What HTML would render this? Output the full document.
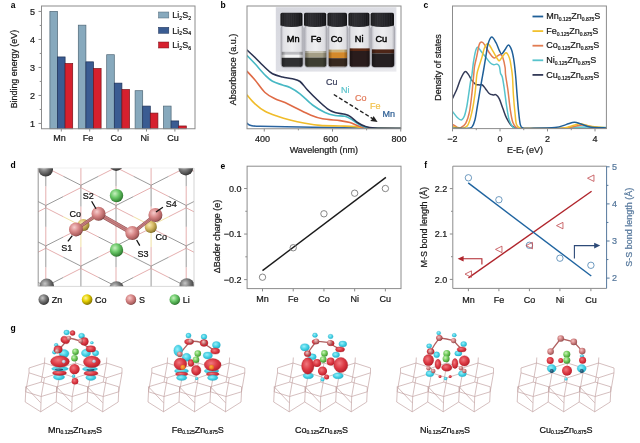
<!DOCTYPE html>
<html><head><meta charset="utf-8"><title>Figure</title>
<style>
html,body{margin:0;padding:0;background:#fff;}
body{width:640px;height:443px;overflow:hidden;}
svg{display:block;}
svg text{font-family:'Liberation Sans',Arial,sans-serif;}
</style></head><body>
<svg width="640" height="443" viewBox="0 0 640 443">
<rect x="0" y="0" width="640" height="443" fill="#ffffff"/>
<defs>
<linearGradient id="phbg" x1="0" y1="0" x2="1" y2="1">
 <stop offset="0" stop-color="#d6d7de"/><stop offset="0.6" stop-color="#dfe0e6"/><stop offset="1" stop-color="#eaeaee"/>
</linearGradient>
<linearGradient id="glass" x1="0" y1="0" x2="1" y2="0">
 <stop offset="0" stop-color="#b4b4bc"/><stop offset="0.12" stop-color="#e2e2e6"/><stop offset="0.5" stop-color="#eeeef0"/><stop offset="0.88" stop-color="#dedee2"/><stop offset="1" stop-color="#a8a8b0"/>
</linearGradient>
<linearGradient id="glassshade" x1="0" y1="0" x2="1" y2="0">
 <stop offset="0" stop-color="#000" stop-opacity="0.35"/><stop offset="0.2" stop-color="#000" stop-opacity="0"/><stop offset="0.8" stop-color="#000" stop-opacity="0"/><stop offset="1" stop-color="#000" stop-opacity="0.35"/>
</linearGradient>
<linearGradient id="cap" x1="0" y1="0" x2="1" y2="0">
 <stop offset="0" stop-color="#1a1a1c"/><stop offset="0.3" stop-color="#2e2e32"/><stop offset="0.7" stop-color="#222226"/><stop offset="1" stop-color="#111113"/>
</linearGradient>
</defs><defs><clipPath id="cvMn"><rect x="281.50" y="25" width="21.30" height="42.20" rx="3.4"/></clipPath></defs><defs><clipPath id="cvFe"><rect x="305.10" y="25" width="21.40" height="42.20" rx="3.4"/></clipPath></defs><defs><clipPath id="cvCo"><rect x="328.50" y="25" width="18.80" height="42.20" rx="3.4"/></clipPath></defs><defs><clipPath id="cvNi"><rect x="349.50" y="25" width="20.30" height="42.20" rx="3.4"/></clipPath></defs><defs><clipPath id="cvCu"><rect x="371.70" y="25" width="22.60" height="42.20" rx="3.4"/></clipPath></defs><defs><clipPath id="clipb"><rect x="247.0" y="6.0" width="154.0" height="122.75"/></clipPath></defs><defs><clipPath id="clipc"><rect x="452.5" y="6.0" width="153.89999999999998" height="122.6"/></clipPath></defs><defs><clipPath id="clipd"><rect x="38.2" y="168.0" width="155.8" height="118.39999999999998"/></clipPath>
<radialGradient id="gZn" cx="0.38" cy="0.35" r="0.7"><stop offset="0" stop-color="#c8c8c8"/><stop offset="0.45" stop-color="#7a7a7a"/><stop offset="1" stop-color="#2e2e2e"/></radialGradient>
<radialGradient id="gS" cx="0.38" cy="0.35" r="0.7"><stop offset="0" stop-color="#f6cccc"/><stop offset="0.45" stop-color="#d88888"/><stop offset="0.85" stop-color="#a85c5c"/><stop offset="1" stop-color="#5a2e2e"/></radialGradient>
<radialGradient id="gLi" cx="0.38" cy="0.35" r="0.7"><stop offset="0" stop-color="#c8f0c0"/><stop offset="0.45" stop-color="#6ac868"/><stop offset="0.85" stop-color="#3a8a3a"/><stop offset="1" stop-color="#1e5a20"/></radialGradient>
<radialGradient id="gCo" cx="0.38" cy="0.35" r="0.7"><stop offset="0" stop-color="#f8eab0"/><stop offset="0.45" stop-color="#d8bc68"/><stop offset="0.85" stop-color="#9c8434"/><stop offset="1" stop-color="#5e4e18"/></radialGradient>
<radialGradient id="gCoL" cx="0.38" cy="0.35" r="0.7"><stop offset="0" stop-color="#fff7a0"/><stop offset="0.45" stop-color="#e6d000"/><stop offset="1" stop-color="#7a6a00"/></radialGradient>
</defs><defs>
<radialGradient id="gR" cx="0.4" cy="0.38" r="0.65"><stop offset="0" stop-color="#f07a80"/><stop offset="0.55" stop-color="#dc3a44"/><stop offset="1" stop-color="#b81e2a"/></radialGradient>
<radialGradient id="gC" cx="0.4" cy="0.38" r="0.65"><stop offset="0" stop-color="#9af0fa"/><stop offset="0.55" stop-color="#46d2e6"/><stop offset="1" stop-color="#22b4cc"/></radialGradient>
<radialGradient id="gSg" cx="0.38" cy="0.35" r="0.7"><stop offset="0" stop-color="#f4c4c4"/><stop offset="0.5" stop-color="#d08080"/><stop offset="1" stop-color="#8e4a4c"/></radialGradient>
<radialGradient id="gLg" cx="0.38" cy="0.35" r="0.7"><stop offset="0" stop-color="#caf2b8"/><stop offset="0.5" stop-color="#72cc5c"/><stop offset="1" stop-color="#3a8a2c"/></radialGradient>
<radialGradient id="gO" cx="0.4" cy="0.4" r="0.6"><stop offset="0" stop-color="#ffb040"/><stop offset="1" stop-color="#e06818"/></radialGradient>
<radialGradient id="gM" cx="0.4" cy="0.4" r="0.6"><stop offset="0" stop-color="#e4e8f0"/><stop offset="1" stop-color="#98a4c0"/></radialGradient>
<radialGradient id="gD" cx="0.4" cy="0.4" r="0.6"><stop offset="0" stop-color="#4a8aa8"/><stop offset="1" stop-color="#163a58"/></radialGradient>
</defs>
<text x="10.80" y="7.60" font-size="8.5" text-anchor="start" fill="#000" font-weight="bold" >a</text>
<rect x="49.90" y="11.45" width="7.60" height="117.30" fill="#87a9bd" stroke="#4e6676" stroke-width="0.7" />
<rect x="57.50" y="56.95" width="7.60" height="71.80" fill="#3a5c92" stroke="#1c3056" stroke-width="0.7" />
<rect x="65.10" y="63.53" width="7.60" height="65.22" fill="#d6202e" stroke="#7a1018" stroke-width="0.7" />
<line x1="61.30" y1="128.75" x2="61.30" y2="131.55" stroke="#8c8c8c" stroke-width="1" />
<text x="59.50" y="141.40" font-size="9" text-anchor="middle" fill="#1a1a1a" stroke="#1a1a1a" stroke-width="0.22" >Mn</text>
<rect x="78.30" y="25.17" width="7.60" height="103.58" fill="#87a9bd" stroke="#4e6676" stroke-width="0.7" />
<rect x="85.90" y="61.85" width="7.60" height="66.90" fill="#3a5c92" stroke="#1c3056" stroke-width="0.7" />
<rect x="93.50" y="68.57" width="7.60" height="60.18" fill="#d6202e" stroke="#7a1018" stroke-width="0.7" />
<line x1="89.70" y1="128.75" x2="89.70" y2="131.55" stroke="#8c8c8c" stroke-width="1" />
<text x="87.90" y="141.40" font-size="9" text-anchor="middle" fill="#1a1a1a" stroke="#1a1a1a" stroke-width="0.22" >Fe</text>
<rect x="106.70" y="54.71" width="7.60" height="74.04" fill="#87a9bd" stroke="#4e6676" stroke-width="0.7" />
<rect x="114.30" y="83.13" width="7.60" height="45.62" fill="#3a5c92" stroke="#1c3056" stroke-width="0.7" />
<rect x="121.90" y="89.57" width="7.60" height="39.18" fill="#d6202e" stroke="#7a1018" stroke-width="0.7" />
<line x1="118.10" y1="128.75" x2="118.10" y2="131.55" stroke="#8c8c8c" stroke-width="1" />
<text x="116.30" y="141.40" font-size="9" text-anchor="middle" fill="#1a1a1a" stroke="#1a1a1a" stroke-width="0.22" >Co</text>
<rect x="135.10" y="90.69" width="7.60" height="38.06" fill="#87a9bd" stroke="#4e6676" stroke-width="0.7" />
<rect x="142.70" y="106.09" width="7.60" height="22.66" fill="#3a5c92" stroke="#1c3056" stroke-width="0.7" />
<rect x="150.30" y="113.09" width="7.60" height="15.66" fill="#d6202e" stroke="#7a1018" stroke-width="0.7" />
<line x1="146.50" y1="128.75" x2="146.50" y2="131.55" stroke="#8c8c8c" stroke-width="1" />
<text x="144.70" y="141.40" font-size="9" text-anchor="middle" fill="#1a1a1a" stroke="#1a1a1a" stroke-width="0.22" >Ni</text>
<rect x="163.50" y="106.09" width="7.60" height="22.66" fill="#87a9bd" stroke="#4e6676" stroke-width="0.7" />
<rect x="171.10" y="120.93" width="7.60" height="7.82" fill="#3a5c92" stroke="#1c3056" stroke-width="0.7" />
<rect x="178.70" y="125.97" width="7.60" height="2.78" fill="#d6202e" stroke="#7a1018" stroke-width="0.7" />
<line x1="174.90" y1="128.75" x2="174.90" y2="131.55" stroke="#8c8c8c" stroke-width="1" />
<text x="173.10" y="141.40" font-size="9" text-anchor="middle" fill="#1a1a1a" stroke="#1a1a1a" stroke-width="0.22" >Cu</text>
<rect x="41.50" y="6.00" width="153.50" height="122.75" fill="none" stroke="#8c8c8c" stroke-width="1" />
<line x1="38.50" y1="123.45" x2="41.50" y2="123.45" stroke="#8c8c8c" stroke-width="1" />
<text x="34.90" y="127.45" font-size="9" text-anchor="end" fill="#1a1a1a" stroke="#1a1a1a" stroke-width="0.22" >1</text>
<line x1="38.50" y1="95.45" x2="41.50" y2="95.45" stroke="#8c8c8c" stroke-width="1" />
<text x="34.90" y="99.45" font-size="9" text-anchor="end" fill="#1a1a1a" stroke="#1a1a1a" stroke-width="0.22" >2</text>
<line x1="38.50" y1="67.45" x2="41.50" y2="67.45" stroke="#8c8c8c" stroke-width="1" />
<text x="34.90" y="71.45" font-size="9" text-anchor="end" fill="#1a1a1a" stroke="#1a1a1a" stroke-width="0.22" >3</text>
<line x1="38.50" y1="39.45" x2="41.50" y2="39.45" stroke="#8c8c8c" stroke-width="1" />
<text x="34.90" y="43.45" font-size="9" text-anchor="end" fill="#1a1a1a" stroke="#1a1a1a" stroke-width="0.22" >4</text>
<line x1="38.50" y1="11.45" x2="41.50" y2="11.45" stroke="#8c8c8c" stroke-width="1" />
<text x="34.90" y="15.45" font-size="9" text-anchor="end" fill="#1a1a1a" stroke="#1a1a1a" stroke-width="0.22" >5</text>
<line x1="39.70" y1="109.45" x2="41.50" y2="109.45" stroke="#8c8c8c" stroke-width="1" />
<line x1="39.70" y1="81.45" x2="41.50" y2="81.45" stroke="#8c8c8c" stroke-width="1" />
<line x1="39.70" y1="53.45" x2="41.50" y2="53.45" stroke="#8c8c8c" stroke-width="1" />
<line x1="39.70" y1="25.45" x2="41.50" y2="25.45" stroke="#8c8c8c" stroke-width="1" />
<text x="0.00" y="0.00" font-size="8.9" text-anchor="middle" fill="#1a1a1a" stroke="#1a1a1a" stroke-width="0.22" transform="translate(17.3,69.1) rotate(-90)">Binding energy (eV)</text>
<rect x="158.50" y="12.00" width="10.30" height="6.00" fill="#87a9bd" stroke="#4e6676" stroke-width="0.5" />
<text x="172.3" y="18.30" font-size="9" fill="#1a1a1a" stroke="#1a1a1a" stroke-width="0.22">Li<tspan font-size="5.2" dy="1.8">2</tspan><tspan dy="-1.8">S</tspan><tspan font-size="5.2" dy="1.8">2</tspan></text>
<rect x="158.50" y="27.30" width="10.30" height="6.00" fill="#3a5c92" stroke="#1c3056" stroke-width="0.5" />
<text x="172.3" y="33.60" font-size="9" fill="#1a1a1a" stroke="#1a1a1a" stroke-width="0.22">Li<tspan font-size="5.2" dy="1.8">2</tspan><tspan dy="-1.8">S</tspan><tspan font-size="5.2" dy="1.8">4</tspan></text>
<rect x="158.50" y="42.00" width="10.30" height="6.00" fill="#d6202e" stroke="#7a1018" stroke-width="0.5" />
<text x="172.3" y="48.30" font-size="9" fill="#1a1a1a" stroke="#1a1a1a" stroke-width="0.22">Li<tspan font-size="5.2" dy="1.8">2</tspan><tspan dy="-1.8">S</tspan><tspan font-size="5.2" dy="1.8">6</tspan></text>
<text x="220.50" y="7.80" font-size="8.5" text-anchor="start" fill="#000" font-weight="bold" >b</text>
<rect x="275.80" y="7.20" width="120.60" height="64.40" fill="url(#phbg)" stroke="none" stroke-width="1" />
<rect x="281.00" y="25.0" width="22.30" height="42.60" rx="3.6" fill="url(#glass)" stroke="#9a9aa2" stroke-width="0.6"/>
<g clip-path="url(#cvMn)">
<rect x="281.50" y="51.80" width="21.30" height="3.00" fill="#bcbcc0"/>
<rect x="281.50" y="54.80" width="21.30" height="3.00" fill="#f4f4f4"/>
<rect x="281.50" y="57.80" width="21.30" height="9.00" fill="#303032"/>
<rect x="281.50" y="51.80" width="21.30" height="15.40" fill="url(#glassshade)"/>
</g>
<rect x="304.60" y="25.0" width="22.40" height="42.60" rx="3.6" fill="url(#glass)" stroke="#9a9aa2" stroke-width="0.6"/>
<g clip-path="url(#cvFe)">
<rect x="305.10" y="51.00" width="21.40" height="2.00" fill="#c8c4b4"/>
<rect x="305.10" y="53.00" width="21.40" height="4.60" fill="#a49e86"/>
<rect x="305.10" y="57.60" width="21.40" height="9.20" fill="#3e3e32"/>
<rect x="305.10" y="51.00" width="21.40" height="16.20" fill="url(#glassshade)"/>
</g>
<rect x="328.00" y="25.0" width="19.80" height="42.60" rx="3.6" fill="url(#glass)" stroke="#9a9aa2" stroke-width="0.6"/>
<g clip-path="url(#cvCo)">
<rect x="328.50" y="49.60" width="18.80" height="2.60" fill="#cdb27a"/>
<rect x="328.50" y="52.20" width="18.80" height="6.00" fill="#d4892a"/>
<rect x="328.50" y="58.20" width="18.80" height="8.40" fill="#38291f"/>
<rect x="328.50" y="49.60" width="18.80" height="17.60" fill="url(#glassshade)"/>
</g>
<rect x="349.00" y="25.0" width="21.30" height="42.60" rx="3.6" fill="url(#glass)" stroke="#9a9aa2" stroke-width="0.6"/>
<g clip-path="url(#cvNi)">
<rect x="349.50" y="48.40" width="20.30" height="2.60" fill="#5e2a14"/>
<rect x="349.50" y="51.00" width="20.30" height="15.80" fill="#2a1c1c"/>
<rect x="349.50" y="48.40" width="20.30" height="18.80" fill="url(#glassshade)"/>
</g>
<rect x="371.20" y="25.0" width="23.60" height="42.60" rx="3.6" fill="url(#glass)" stroke="#9a9aa2" stroke-width="0.6"/>
<g clip-path="url(#cvCu)">
<rect x="371.70" y="49.40" width="22.60" height="4.00" fill="#4e2618"/>
<rect x="371.70" y="53.40" width="22.60" height="14.00" fill="#262022"/>
<rect x="371.70" y="49.40" width="22.60" height="17.80" fill="url(#glassshade)"/>
</g>
<path d="M280.40,14.4 Q280.40,12.8 282.00,12.8 H300.90 Q302.50,12.8 302.50,14.4 V25.6 Q291.45,28.6 280.40,25.6 Z" fill="url(#cap)"/>
<line x1="282.61" y1="13.60" x2="282.61" y2="26.40" stroke="#404046" stroke-width="0.35" />
<line x1="284.82" y1="13.60" x2="284.82" y2="26.40" stroke="#404046" stroke-width="0.35" />
<line x1="287.03" y1="13.60" x2="287.03" y2="26.40" stroke="#404046" stroke-width="0.35" />
<line x1="289.24" y1="13.60" x2="289.24" y2="26.40" stroke="#404046" stroke-width="0.35" />
<line x1="291.45" y1="13.60" x2="291.45" y2="26.40" stroke="#404046" stroke-width="0.35" />
<line x1="293.66" y1="13.60" x2="293.66" y2="26.40" stroke="#404046" stroke-width="0.35" />
<line x1="295.87" y1="13.60" x2="295.87" y2="26.40" stroke="#404046" stroke-width="0.35" />
<line x1="298.08" y1="13.60" x2="298.08" y2="26.40" stroke="#404046" stroke-width="0.35" />
<line x1="300.29" y1="13.60" x2="300.29" y2="26.40" stroke="#404046" stroke-width="0.35" />
<text x="293.2" y="42.4" font-size="9.2" text-anchor="middle" fill="#000" stroke="#000" stroke-width="0.45">Mn</text>
<path d="M304.00,14.4 Q304.00,12.8 305.60,12.8 H324.60 Q326.20,12.8 326.20,14.4 V25.6 Q315.10,28.6 304.00,25.6 Z" fill="url(#cap)"/>
<line x1="306.22" y1="13.60" x2="306.22" y2="26.40" stroke="#404046" stroke-width="0.35" />
<line x1="308.44" y1="13.60" x2="308.44" y2="26.40" stroke="#404046" stroke-width="0.35" />
<line x1="310.66" y1="13.60" x2="310.66" y2="26.40" stroke="#404046" stroke-width="0.35" />
<line x1="312.88" y1="13.60" x2="312.88" y2="26.40" stroke="#404046" stroke-width="0.35" />
<line x1="315.10" y1="13.60" x2="315.10" y2="26.40" stroke="#404046" stroke-width="0.35" />
<line x1="317.32" y1="13.60" x2="317.32" y2="26.40" stroke="#404046" stroke-width="0.35" />
<line x1="319.54" y1="13.60" x2="319.54" y2="26.40" stroke="#404046" stroke-width="0.35" />
<line x1="321.76" y1="13.60" x2="321.76" y2="26.40" stroke="#404046" stroke-width="0.35" />
<line x1="323.98" y1="13.60" x2="323.98" y2="26.40" stroke="#404046" stroke-width="0.35" />
<text x="316.0" y="42.4" font-size="9.2" text-anchor="middle" fill="#000" stroke="#000" stroke-width="0.45">Fe</text>
<path d="M327.40,14.4 Q327.40,12.8 329.00,12.8 H345.40 Q347.00,12.8 347.00,14.4 V25.6 Q337.20,28.6 327.40,25.6 Z" fill="url(#cap)"/>
<line x1="329.36" y1="13.60" x2="329.36" y2="26.40" stroke="#404046" stroke-width="0.35" />
<line x1="331.32" y1="13.60" x2="331.32" y2="26.40" stroke="#404046" stroke-width="0.35" />
<line x1="333.28" y1="13.60" x2="333.28" y2="26.40" stroke="#404046" stroke-width="0.35" />
<line x1="335.24" y1="13.60" x2="335.24" y2="26.40" stroke="#404046" stroke-width="0.35" />
<line x1="337.20" y1="13.60" x2="337.20" y2="26.40" stroke="#404046" stroke-width="0.35" />
<line x1="339.16" y1="13.60" x2="339.16" y2="26.40" stroke="#404046" stroke-width="0.35" />
<line x1="341.12" y1="13.60" x2="341.12" y2="26.40" stroke="#404046" stroke-width="0.35" />
<line x1="343.08" y1="13.60" x2="343.08" y2="26.40" stroke="#404046" stroke-width="0.35" />
<line x1="345.04" y1="13.60" x2="345.04" y2="26.40" stroke="#404046" stroke-width="0.35" />
<text x="336.6" y="42.4" font-size="9.2" text-anchor="middle" fill="#000" stroke="#000" stroke-width="0.45">Co</text>
<path d="M348.40,14.4 Q348.40,12.8 350.00,12.8 H367.90 Q369.50,12.8 369.50,14.4 V25.6 Q358.95,28.6 348.40,25.6 Z" fill="url(#cap)"/>
<line x1="350.51" y1="13.60" x2="350.51" y2="26.40" stroke="#404046" stroke-width="0.35" />
<line x1="352.62" y1="13.60" x2="352.62" y2="26.40" stroke="#404046" stroke-width="0.35" />
<line x1="354.73" y1="13.60" x2="354.73" y2="26.40" stroke="#404046" stroke-width="0.35" />
<line x1="356.84" y1="13.60" x2="356.84" y2="26.40" stroke="#404046" stroke-width="0.35" />
<line x1="358.95" y1="13.60" x2="358.95" y2="26.40" stroke="#404046" stroke-width="0.35" />
<line x1="361.06" y1="13.60" x2="361.06" y2="26.40" stroke="#404046" stroke-width="0.35" />
<line x1="363.17" y1="13.60" x2="363.17" y2="26.40" stroke="#404046" stroke-width="0.35" />
<line x1="365.28" y1="13.60" x2="365.28" y2="26.40" stroke="#404046" stroke-width="0.35" />
<line x1="367.39" y1="13.60" x2="367.39" y2="26.40" stroke="#404046" stroke-width="0.35" />
<text x="359.2" y="42.4" font-size="9.2" text-anchor="middle" fill="#000" stroke="#000" stroke-width="0.45">Ni</text>
<path d="M370.60,14.4 Q370.60,12.8 372.20,12.8 H392.40 Q394.00,12.8 394.00,14.4 V25.6 Q382.30,28.6 370.60,25.6 Z" fill="url(#cap)"/>
<line x1="372.94" y1="13.60" x2="372.94" y2="26.40" stroke="#404046" stroke-width="0.35" />
<line x1="375.28" y1="13.60" x2="375.28" y2="26.40" stroke="#404046" stroke-width="0.35" />
<line x1="377.62" y1="13.60" x2="377.62" y2="26.40" stroke="#404046" stroke-width="0.35" />
<line x1="379.96" y1="13.60" x2="379.96" y2="26.40" stroke="#404046" stroke-width="0.35" />
<line x1="382.30" y1="13.60" x2="382.30" y2="26.40" stroke="#404046" stroke-width="0.35" />
<line x1="384.64" y1="13.60" x2="384.64" y2="26.40" stroke="#404046" stroke-width="0.35" />
<line x1="386.98" y1="13.60" x2="386.98" y2="26.40" stroke="#404046" stroke-width="0.35" />
<line x1="389.32" y1="13.60" x2="389.32" y2="26.40" stroke="#404046" stroke-width="0.35" />
<line x1="391.66" y1="13.60" x2="391.66" y2="26.40" stroke="#404046" stroke-width="0.35" />
<text x="381.3" y="42.4" font-size="9.2" text-anchor="middle" fill="#000" stroke="#000" stroke-width="0.45">Cu</text>
<g clip-path="url(#clipb)">
<path d="M247.00,123.30 C247.67,123.67 248.83,125.00 251.00,125.50 C253.17,126.00 251.83,126.05 260.00,126.30 C268.17,126.55 286.67,126.78 300.00,127.00 C313.33,127.22 323.17,127.38 340.00,127.60 C356.83,127.82 390.83,128.18 401.00,128.30" fill="none" stroke="#2a64a0" stroke-width="1.6" stroke-linejoin="round" stroke-linecap="round" />
<path d="M247.00,95.00 C248.33,96.47 252.00,101.08 255.00,103.80 C258.00,106.52 261.25,109.22 265.00,111.30 C268.75,113.38 273.33,114.85 277.50,116.30 C281.67,117.75 285.42,118.85 290.00,120.00 C294.58,121.15 300.00,122.30 305.00,123.20 C310.00,124.10 314.17,124.93 320.00,125.40 C325.83,125.87 334.17,125.80 340.00,126.00 C345.83,126.20 350.33,126.27 355.00,126.60 C359.67,126.93 360.33,127.68 368.00,128.00 C375.67,128.32 395.50,128.42 401.00,128.50" fill="none" stroke="#f0bc2a" stroke-width="1.6" stroke-linejoin="round" stroke-linecap="round" />
<path d="M247.00,71.30 C248.33,72.75 252.00,76.47 255.00,80.00 C258.00,83.53 261.67,89.37 265.00,92.50 C268.33,95.63 271.67,97.13 275.00,98.80 C278.33,100.47 281.25,100.83 285.00,102.50 C288.75,104.17 293.33,106.75 297.50,108.80 C301.67,110.85 305.83,113.13 310.00,114.80 C314.17,116.47 317.50,117.83 322.50,118.80 C327.50,119.77 335.42,119.97 340.00,120.60 C344.58,121.23 346.67,121.60 350.00,122.60 C353.33,123.60 356.67,125.67 360.00,126.60 C363.33,127.53 363.17,127.88 370.00,128.20 C376.83,128.52 395.83,128.45 401.00,128.50" fill="none" stroke="#df6a45" stroke-width="1.6" stroke-linejoin="round" stroke-linecap="round" />
<path d="M247.00,55.50 C248.33,56.88 252.00,60.55 255.00,63.80 C258.00,67.05 262.08,72.08 265.00,75.00 C267.92,77.92 269.58,79.63 272.50,81.30 C275.42,82.97 279.58,83.97 282.50,85.00 C285.42,86.03 287.08,86.03 290.00,87.50 C292.92,88.97 296.25,90.88 300.00,93.80 C303.75,96.72 308.33,101.88 312.50,105.00 C316.67,108.12 321.25,110.75 325.00,112.50 C328.75,114.25 331.67,114.87 335.00,115.50 C338.33,116.13 342.08,115.55 345.00,116.30 C347.92,117.05 350.00,118.55 352.50,120.00 C355.00,121.45 357.08,123.67 360.00,125.00 C362.92,126.33 363.17,127.42 370.00,128.00 C376.83,128.58 395.83,128.42 401.00,128.50" fill="none" stroke="#47b8c4" stroke-width="1.6" stroke-linejoin="round" stroke-linecap="round" />
<path d="M247.00,50.00 C248.33,51.25 252.00,54.58 255.00,57.50 C258.00,60.42 262.08,64.78 265.00,67.50 C267.92,70.22 269.58,72.22 272.50,73.80 C275.42,75.38 279.17,76.17 282.50,77.00 C285.83,77.83 289.58,78.05 292.50,78.80 C295.42,79.55 297.50,79.63 300.00,81.50 C302.50,83.37 304.58,86.92 307.50,90.00 C310.42,93.08 314.17,96.87 317.50,100.00 C320.83,103.13 324.58,106.72 327.50,108.80 C330.42,110.88 332.08,111.58 335.00,112.50 C337.92,113.42 342.50,113.67 345.00,114.30 C347.50,114.93 347.92,114.93 350.00,116.30 C352.08,117.67 355.00,120.83 357.50,122.50 C360.00,124.17 362.08,125.38 365.00,126.30 C367.92,127.22 369.00,127.63 375.00,128.00 C381.00,128.37 396.67,128.42 401.00,128.50" fill="none" stroke="#2b3352" stroke-width="1.6" stroke-linejoin="round" stroke-linecap="round" />
</g>
<rect x="247.00" y="6.00" width="154.00" height="122.75" fill="none" stroke="#8c8c8c" stroke-width="1" />
<line x1="264.25" y1="128.75" x2="264.25" y2="131.55" stroke="#8c8c8c" stroke-width="1" />
<text x="262.45" y="142.00" font-size="9" text-anchor="middle" fill="#1a1a1a" stroke="#1a1a1a" stroke-width="0.22" >400</text>
<line x1="332.50" y1="128.75" x2="332.50" y2="131.55" stroke="#8c8c8c" stroke-width="1" />
<text x="330.70" y="142.00" font-size="9" text-anchor="middle" fill="#1a1a1a" stroke="#1a1a1a" stroke-width="0.22" >600</text>
<line x1="400.75" y1="128.75" x2="400.75" y2="131.55" stroke="#8c8c8c" stroke-width="1" />
<text x="398.95" y="142.00" font-size="9" text-anchor="middle" fill="#1a1a1a" stroke="#1a1a1a" stroke-width="0.22" >800</text>
<line x1="298.38" y1="128.75" x2="298.38" y2="130.35" stroke="#8c8c8c" stroke-width="1" />
<line x1="366.62" y1="128.75" x2="366.62" y2="130.35" stroke="#8c8c8c" stroke-width="1" />
<text x="323.80" y="152.60" font-size="9" text-anchor="middle" fill="#1a1a1a" stroke="#1a1a1a" stroke-width="0.22" >Wavelength (nm)</text>
<text x="0.00" y="0.00" font-size="9" text-anchor="middle" fill="#1a1a1a" stroke="#1a1a1a" stroke-width="0.22" transform="translate(235.6,69.5) rotate(-90)">Absorbance (a.u.)</text>
<line x1="333.80" y1="94.50" x2="373.80" y2="119.40" stroke="#222" stroke-width="1.35" stroke-dasharray="4,2.2"/>
<polygon points="377.6,121.9 370.2,121.0 372.2,119.0 373.6,116.0" fill="#222"/>
<text x="326.00" y="85.20" font-size="9" text-anchor="start" fill="#3a3f5c" stroke="#3a3f5c" stroke-width="0.22" >Cu</text>
<text x="341.00" y="93.20" font-size="9" text-anchor="start" fill="#5ec4cc" stroke="#5ec4cc" stroke-width="0.22" >Ni</text>
<text x="355.00" y="101.40" font-size="9" text-anchor="start" fill="#e27c5c" stroke="#e27c5c" stroke-width="0.22" >Co</text>
<text x="370.00" y="109.40" font-size="9" text-anchor="start" fill="#f2c24c" stroke="#f2c24c" stroke-width="0.22" >Fe</text>
<text x="382.50" y="117.20" font-size="9" text-anchor="start" fill="#2c5e94" stroke="#2c5e94" stroke-width="0.22" >Mn</text>
<text x="423.50" y="7.80" font-size="8.5" text-anchor="start" fill="#000" font-weight="bold" >c</text>
<g clip-path="url(#clipc)">
<path d="M452.50,98.50 C453.25,96.87 455.63,92.00 457.00,88.70 C458.37,85.40 459.37,81.55 460.70,78.70 C462.03,75.85 463.70,72.28 465.00,71.60 C466.30,70.92 467.35,73.13 468.50,74.60 C469.65,76.07 470.72,78.78 471.90,80.40 C473.08,82.02 474.37,83.55 475.60,84.30 C476.83,85.05 478.17,84.78 479.30,84.90 C480.43,85.02 481.37,84.37 482.40,85.00 C483.43,85.63 484.37,87.28 485.50,88.70 C486.63,90.12 487.95,92.47 489.20,93.50 C490.45,94.53 491.85,94.68 493.00,94.90 C494.15,95.12 495.07,94.18 496.10,94.80 C497.13,95.42 498.07,96.32 499.20,98.60 C500.33,100.88 501.67,105.23 502.90,108.50 C504.13,111.77 505.15,115.32 506.60,118.20 C508.05,121.08 509.95,124.13 511.60,125.80 C513.25,127.47 514.27,127.77 516.50,128.20 C518.73,128.63 510.02,128.37 525.00,128.40 C539.98,128.43 592.83,128.40 606.40,128.40" fill="none" stroke="#343b58" stroke-width="1.5" stroke-linejoin="round" stroke-linecap="round" />
<path d="M452.50,111.50 C453.25,112.45 455.53,115.80 457.00,117.20 C458.47,118.60 460.07,120.10 461.30,119.90 C462.53,119.70 463.47,118.32 464.40,116.00 C465.33,113.68 466.17,109.73 466.90,106.00 C467.63,102.27 468.18,97.73 468.80,93.60 C469.42,89.47 470.08,84.30 470.60,81.20 C471.12,78.10 471.42,78.22 471.90,75.00 C472.38,71.78 472.87,65.97 473.50,61.90 C474.13,57.83 475.00,53.05 475.70,50.60 C476.40,48.15 476.75,47.02 477.70,47.20 C478.65,47.38 480.03,50.00 481.40,51.70 C482.77,53.40 484.40,55.52 485.90,57.40 C487.40,59.28 489.08,61.78 490.40,63.00 C491.72,64.22 492.67,64.52 493.80,64.70 C494.93,64.88 496.27,63.82 497.20,64.10 C498.13,64.38 498.85,64.88 499.40,66.40 C499.95,67.92 500.02,71.43 500.50,73.20 C500.98,74.97 501.70,74.63 502.30,77.00 C502.90,79.37 503.38,82.57 504.10,87.40 C504.82,92.23 505.77,100.62 506.60,106.00 C507.43,111.38 508.07,116.20 509.10,119.70 C510.13,123.20 511.57,125.57 512.80,127.00 C514.03,128.43 514.47,128.07 516.50,128.30 C518.53,128.53 517.75,128.38 525.00,128.40 C532.25,128.42 551.67,128.58 560.00,128.40 C568.33,128.22 570.00,127.53 575.00,127.30 C580.00,127.07 584.77,126.95 590.00,127.00 C595.23,127.05 603.67,127.50 606.40,127.60" fill="none" stroke="#57c3cc" stroke-width="1.5" stroke-linejoin="round" stroke-linecap="round" />
<path d="M452.50,124.40 C453.25,124.85 455.63,126.55 457.00,127.10 C458.37,127.65 459.25,128.32 460.70,127.70 C462.15,127.08 464.25,125.98 465.70,123.40 C467.15,120.82 468.37,117.17 469.40,112.20 C470.43,107.23 471.18,99.80 471.90,93.60 C472.62,87.40 473.25,79.60 473.70,75.00 C474.15,70.40 474.08,69.13 474.60,66.00 C475.12,62.87 476.05,59.72 476.80,56.20 C477.55,52.68 478.30,47.25 479.10,44.90 C479.90,42.55 480.67,42.10 481.60,42.10 C482.53,42.10 483.42,43.12 484.70,44.90 C485.98,46.68 487.78,50.63 489.30,52.80 C490.82,54.97 492.48,57.33 493.80,57.90 C495.12,58.47 496.08,56.77 497.20,56.20 C498.32,55.63 499.57,54.30 500.50,54.50 C501.43,54.70 502.03,55.23 502.80,57.40 C503.57,59.57 504.63,64.57 505.10,67.50 C505.57,70.43 505.13,71.27 505.60,75.00 C506.07,78.73 507.12,84.10 507.90,89.90 C508.68,95.70 509.48,104.42 510.30,109.80 C511.12,115.18 511.77,119.22 512.80,122.20 C513.83,125.18 514.97,126.67 516.50,127.70 C518.03,128.73 514.75,128.28 522.00,128.40 C529.25,128.52 551.67,128.63 560.00,128.40 C568.33,128.17 568.17,127.57 572.00,127.00 C575.83,126.43 579.17,124.97 583.00,125.00 C586.83,125.03 591.10,126.70 595.00,127.20 C598.90,127.70 604.50,127.87 606.40,128.00" fill="none" stroke="#e27c52" stroke-width="1.5" stroke-linejoin="round" stroke-linecap="round" />
<path d="M452.50,126.50 C453.87,126.83 458.78,128.28 460.70,128.50 C462.62,128.72 462.77,128.45 464.00,127.80 C465.23,127.15 466.78,127.20 468.10,124.60 C469.42,122.00 470.75,117.37 471.90,112.20 C473.05,107.03 474.18,99.80 475.00,93.60 C475.82,87.40 476.22,79.27 476.80,75.00 C477.38,70.73 477.65,70.93 478.50,68.00 C479.35,65.07 480.87,60.87 481.90,57.40 C482.93,53.93 483.67,49.47 484.70,47.20 C485.73,44.93 486.78,43.23 488.10,43.80 C489.42,44.37 491.08,48.15 492.60,50.60 C494.12,53.05 496.07,56.82 497.20,58.50 C498.33,60.18 498.47,61.08 499.40,60.70 C500.33,60.32 501.67,57.52 502.80,56.20 C503.93,54.88 505.07,52.42 506.20,52.80 C507.33,53.18 508.75,56.05 509.60,58.50 C510.45,60.95 510.82,64.42 511.30,67.50 C511.78,70.58 512.15,72.42 512.50,77.00 C512.85,81.58 512.98,89.00 513.40,95.00 C513.82,101.00 514.48,108.07 515.00,113.00 C515.52,117.93 515.62,122.05 516.50,124.60 C517.38,127.15 518.38,127.67 520.30,128.30 C522.22,128.93 521.38,128.38 528.00,128.40 C534.62,128.42 553.00,128.72 560.00,128.40 C567.00,128.08 566.67,127.27 570.00,126.50 C573.33,125.73 576.67,123.85 580.00,123.80 C583.33,123.75 585.60,125.53 590.00,126.20 C594.40,126.87 603.67,127.53 606.40,127.80" fill="none" stroke="#f2c12e" stroke-width="1.5" stroke-linejoin="round" stroke-linecap="round" />
<path d="M452.50,128.30 C454.58,128.32 462.40,128.40 465.00,128.40 C467.60,128.40 466.95,128.52 468.10,128.30 C469.25,128.08 470.75,128.53 471.90,127.10 C473.05,125.67 474.08,123.22 475.00,119.70 C475.92,116.18 476.58,110.77 477.40,106.00 C478.22,101.23 479.17,95.43 479.90,91.10 C480.63,86.77 481.18,83.52 481.80,80.00 C482.42,76.48 482.92,73.97 483.60,70.00 C484.28,66.03 485.15,60.57 485.90,56.20 C486.65,51.83 487.13,47.00 488.10,43.80 C489.07,40.60 490.38,37.18 491.70,37.00 C493.02,36.82 494.72,40.43 496.00,42.70 C497.28,44.97 498.45,48.72 499.40,50.60 C500.35,52.48 500.75,54.18 501.70,54.00 C502.65,53.82 503.97,51.02 505.10,49.50 C506.23,47.98 507.38,44.72 508.50,44.90 C509.62,45.08 510.87,47.77 511.80,50.60 C512.73,53.43 513.43,57.38 514.10,61.90 C514.77,66.42 515.35,72.83 515.80,77.70 C516.25,82.57 516.37,85.75 516.80,91.10 C517.23,96.45 517.82,104.22 518.40,109.80 C518.98,115.38 519.53,121.53 520.30,124.60 C521.07,127.67 521.38,127.57 523.00,128.20 C524.62,128.83 524.67,128.50 530.00,128.40 C535.33,128.30 549.00,128.23 555.00,127.60 C561.00,126.97 562.77,125.48 566.00,124.60 C569.23,123.72 571.90,122.40 574.40,122.30 C576.90,122.20 578.40,123.23 581.00,124.00 C583.60,124.77 585.77,126.23 590.00,126.90 C594.23,127.57 603.67,127.82 606.40,128.00" fill="none" stroke="#1f5f98" stroke-width="1.5" stroke-linejoin="round" stroke-linecap="round" />
</g>
<rect x="452.50" y="6.00" width="153.90" height="122.60" fill="none" stroke="#8c8c8c" stroke-width="1" />
<line x1="452.50" y1="128.60" x2="452.50" y2="131.40" stroke="#8c8c8c" stroke-width="1" />
<text x="452.50" y="142.00" font-size="9" text-anchor="middle" fill="#1a1a1a" stroke="#1a1a1a" stroke-width="0.22" >−2</text>
<line x1="500.00" y1="128.60" x2="500.00" y2="131.40" stroke="#8c8c8c" stroke-width="1" />
<text x="500.00" y="142.00" font-size="9" text-anchor="middle" fill="#1a1a1a" stroke="#1a1a1a" stroke-width="0.22" >0</text>
<line x1="547.50" y1="128.60" x2="547.50" y2="131.40" stroke="#8c8c8c" stroke-width="1" />
<text x="547.50" y="142.00" font-size="9" text-anchor="middle" fill="#1a1a1a" stroke="#1a1a1a" stroke-width="0.22" >2</text>
<line x1="595.00" y1="128.60" x2="595.00" y2="131.40" stroke="#8c8c8c" stroke-width="1" />
<text x="595.00" y="142.00" font-size="9" text-anchor="middle" fill="#1a1a1a" stroke="#1a1a1a" stroke-width="0.22" >4</text>
<line x1="476.25" y1="128.60" x2="476.25" y2="130.20" stroke="#8c8c8c" stroke-width="1" />
<line x1="523.75" y1="128.60" x2="523.75" y2="130.20" stroke="#8c8c8c" stroke-width="1" />
<line x1="571.25" y1="128.60" x2="571.25" y2="130.20" stroke="#8c8c8c" stroke-width="1" />
<text x="525" y="152.6" font-size="9" text-anchor="middle" fill="#1a1a1a" stroke="#1a1a1a" stroke-width="0.22">E-E<tspan font-size="5.2" dy="1.8">f</tspan><tspan dy="-1.8"> (eV)</tspan></text>
<text x="0.00" y="0.00" font-size="9" text-anchor="middle" fill="#1a1a1a" stroke="#1a1a1a" stroke-width="0.22" transform="translate(440.6,67.5) rotate(-90)">Density of states</text>
<line x1="532.50" y1="16.50" x2="543.20" y2="16.50" stroke="#1f5f98" stroke-width="1.8" />
<text x="546.3" y="19.20" font-size="9" fill="#1a1a1a" stroke="#1a1a1a" stroke-width="0.22">Mn<tspan font-size="5.0" dy="2">0.125</tspan><tspan dy="-2">Zn</tspan><tspan font-size="5.0" dy="2">0.875</tspan><tspan dy="-2">S</tspan></text>
<line x1="532.50" y1="31.10" x2="543.20" y2="31.10" stroke="#f2c12e" stroke-width="1.8" />
<text x="546.3" y="33.80" font-size="9" fill="#1a1a1a" stroke="#1a1a1a" stroke-width="0.22">Fe<tspan font-size="5.0" dy="2">0.125</tspan><tspan dy="-2">Zn</tspan><tspan font-size="5.0" dy="2">0.875</tspan><tspan dy="-2">S</tspan></text>
<line x1="532.50" y1="45.70" x2="543.20" y2="45.70" stroke="#e27c52" stroke-width="1.8" />
<text x="546.3" y="48.40" font-size="9" fill="#1a1a1a" stroke="#1a1a1a" stroke-width="0.22">Co<tspan font-size="5.0" dy="2">0.125</tspan><tspan dy="-2">Zn</tspan><tspan font-size="5.0" dy="2">0.875</tspan><tspan dy="-2">S</tspan></text>
<line x1="532.50" y1="60.30" x2="543.20" y2="60.30" stroke="#57c3cc" stroke-width="1.8" />
<text x="546.3" y="63.00" font-size="9" fill="#1a1a1a" stroke="#1a1a1a" stroke-width="0.22">Ni<tspan font-size="5.0" dy="2">0.125</tspan><tspan dy="-2">Zn</tspan><tspan font-size="5.0" dy="2">0.875</tspan><tspan dy="-2">S</tspan></text>
<line x1="532.50" y1="74.90" x2="543.20" y2="74.90" stroke="#343b58" stroke-width="1.8" />
<text x="546.3" y="77.60" font-size="9" fill="#1a1a1a" stroke="#1a1a1a" stroke-width="0.22">Cu<tspan font-size="5.0" dy="2">0.125</tspan><tspan dy="-2">Zn</tspan><tspan font-size="5.0" dy="2">0.875</tspan><tspan dy="-2">S</tspan></text>
<text x="10.60" y="168.20" font-size="8.5" text-anchor="start" fill="#000" font-weight="bold" >d</text>
<g clip-path="url(#clipd)">
<line x1="-24.40" y1="126.96" x2="-6.85" y2="135.87" stroke="#e2a6a6" stroke-width="0.9" />
<line x1="-6.85" y1="135.87" x2="10.70" y2="144.78" stroke="#8f8f8f" stroke-width="0.9" />
<line x1="-24.40" y1="167.40" x2="-6.85" y2="176.31" stroke="#e2a6a6" stroke-width="0.9" />
<line x1="-6.85" y1="176.31" x2="10.70" y2="185.22" stroke="#8f8f8f" stroke-width="0.9" />
<line x1="-24.40" y1="165.00" x2="-6.85" y2="156.09" stroke="#8f8f8f" stroke-width="0.9" />
<line x1="-6.85" y1="156.09" x2="10.70" y2="147.18" stroke="#e2a6a6" stroke-width="0.9" />
<line x1="-24.40" y1="207.84" x2="-6.85" y2="216.75" stroke="#e2a6a6" stroke-width="0.9" />
<line x1="-6.85" y1="216.75" x2="10.70" y2="225.66" stroke="#8f8f8f" stroke-width="0.9" />
<line x1="-24.40" y1="205.44" x2="-6.85" y2="196.53" stroke="#8f8f8f" stroke-width="0.9" />
<line x1="-6.85" y1="196.53" x2="10.70" y2="187.62" stroke="#e2a6a6" stroke-width="0.9" />
<line x1="-24.40" y1="248.28" x2="-6.85" y2="257.19" stroke="#e2a6a6" stroke-width="0.9" />
<line x1="-6.85" y1="257.19" x2="10.70" y2="266.10" stroke="#8f8f8f" stroke-width="0.9" />
<line x1="-24.40" y1="245.88" x2="-6.85" y2="236.97" stroke="#8f8f8f" stroke-width="0.9" />
<line x1="-6.85" y1="236.97" x2="10.70" y2="228.06" stroke="#e2a6a6" stroke-width="0.9" />
<line x1="-24.40" y1="288.72" x2="-6.85" y2="297.63" stroke="#e2a6a6" stroke-width="0.9" />
<line x1="-6.85" y1="297.63" x2="10.70" y2="306.54" stroke="#8f8f8f" stroke-width="0.9" />
<line x1="-24.40" y1="286.32" x2="-6.85" y2="277.41" stroke="#8f8f8f" stroke-width="0.9" />
<line x1="-6.85" y1="277.41" x2="10.70" y2="268.50" stroke="#e2a6a6" stroke-width="0.9" />
<line x1="-24.40" y1="326.76" x2="-6.85" y2="317.85" stroke="#8f8f8f" stroke-width="0.9" />
<line x1="-6.85" y1="317.85" x2="10.70" y2="308.94" stroke="#e2a6a6" stroke-width="0.9" />
<line x1="10.70" y1="104.34" x2="10.70" y2="125.76" stroke="#8f8f8f" stroke-width="0.9" />
<line x1="10.70" y1="125.76" x2="10.70" y2="147.18" stroke="#e2a6a6" stroke-width="0.9" />
<line x1="10.70" y1="144.78" x2="10.70" y2="166.20" stroke="#8f8f8f" stroke-width="0.9" />
<line x1="10.70" y1="166.20" x2="10.70" y2="187.62" stroke="#e2a6a6" stroke-width="0.9" />
<line x1="10.70" y1="147.18" x2="28.25" y2="156.09" stroke="#e2a6a6" stroke-width="0.9" />
<line x1="28.25" y1="156.09" x2="45.80" y2="165.00" stroke="#8f8f8f" stroke-width="0.9" />
<line x1="10.70" y1="144.78" x2="28.25" y2="135.87" stroke="#8f8f8f" stroke-width="0.9" />
<line x1="28.25" y1="135.87" x2="45.80" y2="126.96" stroke="#e2a6a6" stroke-width="0.9" />
<line x1="10.70" y1="185.22" x2="10.70" y2="206.64" stroke="#8f8f8f" stroke-width="0.9" />
<line x1="10.70" y1="206.64" x2="10.70" y2="228.06" stroke="#e2a6a6" stroke-width="0.9" />
<line x1="10.70" y1="187.62" x2="28.25" y2="196.53" stroke="#e2a6a6" stroke-width="0.9" />
<line x1="28.25" y1="196.53" x2="45.80" y2="205.44" stroke="#8f8f8f" stroke-width="0.9" />
<line x1="10.70" y1="185.22" x2="28.25" y2="176.31" stroke="#8f8f8f" stroke-width="0.9" />
<line x1="28.25" y1="176.31" x2="45.80" y2="167.40" stroke="#e2a6a6" stroke-width="0.9" />
<line x1="10.70" y1="225.66" x2="10.70" y2="247.08" stroke="#8f8f8f" stroke-width="0.9" />
<line x1="10.70" y1="247.08" x2="10.70" y2="268.50" stroke="#e2a6a6" stroke-width="0.9" />
<line x1="10.70" y1="228.06" x2="28.25" y2="236.97" stroke="#e2a6a6" stroke-width="0.9" />
<line x1="28.25" y1="236.97" x2="45.80" y2="245.88" stroke="#8f8f8f" stroke-width="0.9" />
<line x1="10.70" y1="225.66" x2="28.25" y2="216.75" stroke="#8f8f8f" stroke-width="0.9" />
<line x1="28.25" y1="216.75" x2="45.80" y2="207.84" stroke="#e2a6a6" stroke-width="0.9" />
<line x1="10.70" y1="266.10" x2="10.70" y2="287.52" stroke="#8f8f8f" stroke-width="0.9" />
<line x1="10.70" y1="287.52" x2="10.70" y2="308.94" stroke="#e2a6a6" stroke-width="0.9" />
<line x1="10.70" y1="268.50" x2="28.25" y2="277.41" stroke="#e2a6a6" stroke-width="0.9" />
<line x1="28.25" y1="277.41" x2="45.80" y2="286.32" stroke="#8f8f8f" stroke-width="0.9" />
<line x1="10.70" y1="266.10" x2="28.25" y2="257.19" stroke="#8f8f8f" stroke-width="0.9" />
<line x1="28.25" y1="257.19" x2="45.80" y2="248.28" stroke="#e2a6a6" stroke-width="0.9" />
<line x1="10.70" y1="306.54" x2="10.70" y2="327.96" stroke="#8f8f8f" stroke-width="0.9" />
<line x1="10.70" y1="327.96" x2="10.70" y2="349.38" stroke="#e2a6a6" stroke-width="0.9" />
<line x1="10.70" y1="308.94" x2="28.25" y2="317.85" stroke="#e2a6a6" stroke-width="0.9" />
<line x1="28.25" y1="317.85" x2="45.80" y2="326.76" stroke="#8f8f8f" stroke-width="0.9" />
<line x1="10.70" y1="306.54" x2="28.25" y2="297.63" stroke="#8f8f8f" stroke-width="0.9" />
<line x1="28.25" y1="297.63" x2="45.80" y2="288.72" stroke="#e2a6a6" stroke-width="0.9" />
<line x1="45.80" y1="124.56" x2="45.80" y2="145.98" stroke="#8f8f8f" stroke-width="0.9" />
<line x1="45.80" y1="145.98" x2="45.80" y2="167.40" stroke="#e2a6a6" stroke-width="0.9" />
<line x1="45.80" y1="126.96" x2="63.35" y2="135.87" stroke="#e2a6a6" stroke-width="0.9" />
<line x1="63.35" y1="135.87" x2="80.90" y2="144.78" stroke="#8f8f8f" stroke-width="0.9" />
<line x1="45.80" y1="165.00" x2="45.80" y2="186.42" stroke="#8f8f8f" stroke-width="0.9" />
<line x1="45.80" y1="186.42" x2="45.80" y2="207.84" stroke="#e2a6a6" stroke-width="0.9" />
<line x1="45.80" y1="167.40" x2="63.35" y2="176.31" stroke="#e2a6a6" stroke-width="0.9" />
<line x1="63.35" y1="176.31" x2="80.90" y2="185.22" stroke="#8f8f8f" stroke-width="0.9" />
<line x1="45.80" y1="165.00" x2="63.35" y2="156.09" stroke="#8f8f8f" stroke-width="0.9" />
<line x1="63.35" y1="156.09" x2="80.90" y2="147.18" stroke="#e2a6a6" stroke-width="0.9" />
<line x1="45.80" y1="205.44" x2="45.80" y2="226.86" stroke="#8f8f8f" stroke-width="0.9" />
<line x1="45.80" y1="226.86" x2="45.80" y2="248.28" stroke="#e2a6a6" stroke-width="0.9" />
<line x1="45.80" y1="207.84" x2="63.35" y2="216.75" stroke="#e2a6a6" stroke-width="0.9" />
<line x1="63.35" y1="216.75" x2="80.90" y2="225.66" stroke="#eedc98" stroke-width="0.9" />
<line x1="45.80" y1="205.44" x2="63.35" y2="196.53" stroke="#8f8f8f" stroke-width="0.9" />
<line x1="63.35" y1="196.53" x2="80.90" y2="187.62" stroke="#e2a6a6" stroke-width="0.9" />
<line x1="45.80" y1="245.88" x2="45.80" y2="267.30" stroke="#8f8f8f" stroke-width="0.9" />
<line x1="45.80" y1="267.30" x2="45.80" y2="288.72" stroke="#e2a6a6" stroke-width="0.9" />
<line x1="45.80" y1="248.28" x2="63.35" y2="257.19" stroke="#e2a6a6" stroke-width="0.9" />
<line x1="63.35" y1="257.19" x2="80.90" y2="266.10" stroke="#8f8f8f" stroke-width="0.9" />
<line x1="45.80" y1="245.88" x2="63.35" y2="236.97" stroke="#8f8f8f" stroke-width="0.9" />
<line x1="63.35" y1="236.97" x2="80.90" y2="228.06" stroke="#e2a6a6" stroke-width="0.9" />
<line x1="45.80" y1="286.32" x2="45.80" y2="307.74" stroke="#8f8f8f" stroke-width="0.9" />
<line x1="45.80" y1="307.74" x2="45.80" y2="329.16" stroke="#e2a6a6" stroke-width="0.9" />
<line x1="45.80" y1="288.72" x2="63.35" y2="297.63" stroke="#e2a6a6" stroke-width="0.9" />
<line x1="63.35" y1="297.63" x2="80.90" y2="306.54" stroke="#8f8f8f" stroke-width="0.9" />
<line x1="45.80" y1="286.32" x2="63.35" y2="277.41" stroke="#8f8f8f" stroke-width="0.9" />
<line x1="63.35" y1="277.41" x2="80.90" y2="268.50" stroke="#e2a6a6" stroke-width="0.9" />
<line x1="45.80" y1="326.76" x2="63.35" y2="317.85" stroke="#8f8f8f" stroke-width="0.9" />
<line x1="63.35" y1="317.85" x2="80.90" y2="308.94" stroke="#e2a6a6" stroke-width="0.9" />
<line x1="80.90" y1="104.34" x2="80.90" y2="125.76" stroke="#8f8f8f" stroke-width="0.9" />
<line x1="80.90" y1="125.76" x2="80.90" y2="147.18" stroke="#e2a6a6" stroke-width="0.9" />
<line x1="80.90" y1="144.78" x2="80.90" y2="166.20" stroke="#8f8f8f" stroke-width="0.9" />
<line x1="80.90" y1="166.20" x2="80.90" y2="187.62" stroke="#e2a6a6" stroke-width="0.9" />
<line x1="80.90" y1="147.18" x2="98.45" y2="156.09" stroke="#e2a6a6" stroke-width="0.9" />
<line x1="98.45" y1="156.09" x2="116.00" y2="165.00" stroke="#8f8f8f" stroke-width="0.9" />
<line x1="80.90" y1="144.78" x2="98.45" y2="135.87" stroke="#8f8f8f" stroke-width="0.9" />
<line x1="98.45" y1="135.87" x2="116.00" y2="126.96" stroke="#e2a6a6" stroke-width="0.9" />
<line x1="80.90" y1="185.22" x2="80.90" y2="206.64" stroke="#8f8f8f" stroke-width="0.9" />
<line x1="80.90" y1="206.64" x2="80.90" y2="228.06" stroke="#e2a6a6" stroke-width="0.9" />
<line x1="80.90" y1="187.62" x2="98.45" y2="196.53" stroke="#e2a6a6" stroke-width="0.9" />
<line x1="98.45" y1="196.53" x2="116.00" y2="205.44" stroke="#8f8f8f" stroke-width="0.9" />
<line x1="80.90" y1="185.22" x2="98.45" y2="176.31" stroke="#8f8f8f" stroke-width="0.9" />
<line x1="98.45" y1="176.31" x2="116.00" y2="167.40" stroke="#e2a6a6" stroke-width="0.9" />
<line x1="80.90" y1="225.66" x2="80.90" y2="247.08" stroke="#eedc98" stroke-width="0.9" />
<line x1="80.90" y1="247.08" x2="80.90" y2="268.50" stroke="#e2a6a6" stroke-width="0.9" />
<line x1="80.90" y1="228.06" x2="98.45" y2="236.97" stroke="#e2a6a6" stroke-width="0.9" />
<line x1="98.45" y1="236.97" x2="116.00" y2="245.88" stroke="#8f8f8f" stroke-width="0.9" />
<line x1="80.90" y1="225.66" x2="98.45" y2="216.75" stroke="#eedc98" stroke-width="0.9" />
<line x1="98.45" y1="216.75" x2="116.00" y2="207.84" stroke="#e2a6a6" stroke-width="0.9" />
<line x1="80.90" y1="266.10" x2="80.90" y2="287.52" stroke="#8f8f8f" stroke-width="0.9" />
<line x1="80.90" y1="287.52" x2="80.90" y2="308.94" stroke="#e2a6a6" stroke-width="0.9" />
<line x1="80.90" y1="268.50" x2="98.45" y2="277.41" stroke="#e2a6a6" stroke-width="0.9" />
<line x1="98.45" y1="277.41" x2="116.00" y2="286.32" stroke="#8f8f8f" stroke-width="0.9" />
<line x1="80.90" y1="266.10" x2="98.45" y2="257.19" stroke="#8f8f8f" stroke-width="0.9" />
<line x1="98.45" y1="257.19" x2="116.00" y2="248.28" stroke="#e2a6a6" stroke-width="0.9" />
<line x1="80.90" y1="306.54" x2="80.90" y2="327.96" stroke="#8f8f8f" stroke-width="0.9" />
<line x1="80.90" y1="327.96" x2="80.90" y2="349.38" stroke="#e2a6a6" stroke-width="0.9" />
<line x1="80.90" y1="308.94" x2="98.45" y2="317.85" stroke="#e2a6a6" stroke-width="0.9" />
<line x1="98.45" y1="317.85" x2="116.00" y2="326.76" stroke="#8f8f8f" stroke-width="0.9" />
<line x1="80.90" y1="306.54" x2="98.45" y2="297.63" stroke="#8f8f8f" stroke-width="0.9" />
<line x1="98.45" y1="297.63" x2="116.00" y2="288.72" stroke="#e2a6a6" stroke-width="0.9" />
<line x1="116.00" y1="124.56" x2="116.00" y2="145.98" stroke="#8f8f8f" stroke-width="0.9" />
<line x1="116.00" y1="145.98" x2="116.00" y2="167.40" stroke="#e2a6a6" stroke-width="0.9" />
<line x1="116.00" y1="126.96" x2="133.55" y2="135.87" stroke="#e2a6a6" stroke-width="0.9" />
<line x1="133.55" y1="135.87" x2="151.10" y2="144.78" stroke="#8f8f8f" stroke-width="0.9" />
<line x1="116.00" y1="165.00" x2="116.00" y2="186.42" stroke="#8f8f8f" stroke-width="0.9" />
<line x1="116.00" y1="186.42" x2="116.00" y2="207.84" stroke="#e2a6a6" stroke-width="0.9" />
<line x1="116.00" y1="167.40" x2="133.55" y2="176.31" stroke="#e2a6a6" stroke-width="0.9" />
<line x1="133.55" y1="176.31" x2="151.10" y2="185.22" stroke="#8f8f8f" stroke-width="0.9" />
<line x1="116.00" y1="165.00" x2="133.55" y2="156.09" stroke="#8f8f8f" stroke-width="0.9" />
<line x1="133.55" y1="156.09" x2="151.10" y2="147.18" stroke="#e2a6a6" stroke-width="0.9" />
<line x1="116.00" y1="205.44" x2="116.00" y2="226.86" stroke="#8f8f8f" stroke-width="0.9" />
<line x1="116.00" y1="226.86" x2="116.00" y2="248.28" stroke="#e2a6a6" stroke-width="0.9" />
<line x1="116.00" y1="207.84" x2="133.55" y2="216.75" stroke="#e2a6a6" stroke-width="0.9" />
<line x1="133.55" y1="216.75" x2="151.10" y2="225.66" stroke="#eedc98" stroke-width="0.9" />
<line x1="116.00" y1="205.44" x2="133.55" y2="196.53" stroke="#8f8f8f" stroke-width="0.9" />
<line x1="133.55" y1="196.53" x2="151.10" y2="187.62" stroke="#e2a6a6" stroke-width="0.9" />
<line x1="116.00" y1="245.88" x2="116.00" y2="267.30" stroke="#8f8f8f" stroke-width="0.9" />
<line x1="116.00" y1="267.30" x2="116.00" y2="288.72" stroke="#e2a6a6" stroke-width="0.9" />
<line x1="116.00" y1="248.28" x2="133.55" y2="257.19" stroke="#e2a6a6" stroke-width="0.9" />
<line x1="133.55" y1="257.19" x2="151.10" y2="266.10" stroke="#8f8f8f" stroke-width="0.9" />
<line x1="116.00" y1="245.88" x2="133.55" y2="236.97" stroke="#8f8f8f" stroke-width="0.9" />
<line x1="133.55" y1="236.97" x2="151.10" y2="228.06" stroke="#e2a6a6" stroke-width="0.9" />
<line x1="116.00" y1="286.32" x2="116.00" y2="307.74" stroke="#8f8f8f" stroke-width="0.9" />
<line x1="116.00" y1="307.74" x2="116.00" y2="329.16" stroke="#e2a6a6" stroke-width="0.9" />
<line x1="116.00" y1="288.72" x2="133.55" y2="297.63" stroke="#e2a6a6" stroke-width="0.9" />
<line x1="133.55" y1="297.63" x2="151.10" y2="306.54" stroke="#8f8f8f" stroke-width="0.9" />
<line x1="116.00" y1="286.32" x2="133.55" y2="277.41" stroke="#8f8f8f" stroke-width="0.9" />
<line x1="133.55" y1="277.41" x2="151.10" y2="268.50" stroke="#e2a6a6" stroke-width="0.9" />
<line x1="116.00" y1="326.76" x2="133.55" y2="317.85" stroke="#8f8f8f" stroke-width="0.9" />
<line x1="133.55" y1="317.85" x2="151.10" y2="308.94" stroke="#e2a6a6" stroke-width="0.9" />
<line x1="151.10" y1="104.34" x2="151.10" y2="125.76" stroke="#8f8f8f" stroke-width="0.9" />
<line x1="151.10" y1="125.76" x2="151.10" y2="147.18" stroke="#e2a6a6" stroke-width="0.9" />
<line x1="151.10" y1="144.78" x2="151.10" y2="166.20" stroke="#8f8f8f" stroke-width="0.9" />
<line x1="151.10" y1="166.20" x2="151.10" y2="187.62" stroke="#e2a6a6" stroke-width="0.9" />
<line x1="151.10" y1="147.18" x2="168.65" y2="156.09" stroke="#e2a6a6" stroke-width="0.9" />
<line x1="168.65" y1="156.09" x2="186.20" y2="165.00" stroke="#8f8f8f" stroke-width="0.9" />
<line x1="151.10" y1="144.78" x2="168.65" y2="135.87" stroke="#8f8f8f" stroke-width="0.9" />
<line x1="168.65" y1="135.87" x2="186.20" y2="126.96" stroke="#e2a6a6" stroke-width="0.9" />
<line x1="151.10" y1="185.22" x2="151.10" y2="206.64" stroke="#8f8f8f" stroke-width="0.9" />
<line x1="151.10" y1="206.64" x2="151.10" y2="228.06" stroke="#e2a6a6" stroke-width="0.9" />
<line x1="151.10" y1="187.62" x2="168.65" y2="196.53" stroke="#e2a6a6" stroke-width="0.9" />
<line x1="168.65" y1="196.53" x2="186.20" y2="205.44" stroke="#8f8f8f" stroke-width="0.9" />
<line x1="151.10" y1="185.22" x2="168.65" y2="176.31" stroke="#8f8f8f" stroke-width="0.9" />
<line x1="168.65" y1="176.31" x2="186.20" y2="167.40" stroke="#e2a6a6" stroke-width="0.9" />
<line x1="151.10" y1="225.66" x2="151.10" y2="247.08" stroke="#eedc98" stroke-width="0.9" />
<line x1="151.10" y1="247.08" x2="151.10" y2="268.50" stroke="#e2a6a6" stroke-width="0.9" />
<line x1="151.10" y1="228.06" x2="168.65" y2="236.97" stroke="#e2a6a6" stroke-width="0.9" />
<line x1="168.65" y1="236.97" x2="186.20" y2="245.88" stroke="#8f8f8f" stroke-width="0.9" />
<line x1="151.10" y1="225.66" x2="168.65" y2="216.75" stroke="#eedc98" stroke-width="0.9" />
<line x1="168.65" y1="216.75" x2="186.20" y2="207.84" stroke="#e2a6a6" stroke-width="0.9" />
<line x1="151.10" y1="266.10" x2="151.10" y2="287.52" stroke="#8f8f8f" stroke-width="0.9" />
<line x1="151.10" y1="287.52" x2="151.10" y2="308.94" stroke="#e2a6a6" stroke-width="0.9" />
<line x1="151.10" y1="268.50" x2="168.65" y2="277.41" stroke="#e2a6a6" stroke-width="0.9" />
<line x1="168.65" y1="277.41" x2="186.20" y2="286.32" stroke="#8f8f8f" stroke-width="0.9" />
<line x1="151.10" y1="266.10" x2="168.65" y2="257.19" stroke="#8f8f8f" stroke-width="0.9" />
<line x1="168.65" y1="257.19" x2="186.20" y2="248.28" stroke="#e2a6a6" stroke-width="0.9" />
<line x1="151.10" y1="306.54" x2="151.10" y2="327.96" stroke="#8f8f8f" stroke-width="0.9" />
<line x1="151.10" y1="327.96" x2="151.10" y2="349.38" stroke="#e2a6a6" stroke-width="0.9" />
<line x1="151.10" y1="308.94" x2="168.65" y2="317.85" stroke="#e2a6a6" stroke-width="0.9" />
<line x1="168.65" y1="317.85" x2="186.20" y2="326.76" stroke="#8f8f8f" stroke-width="0.9" />
<line x1="151.10" y1="306.54" x2="168.65" y2="297.63" stroke="#8f8f8f" stroke-width="0.9" />
<line x1="168.65" y1="297.63" x2="186.20" y2="288.72" stroke="#e2a6a6" stroke-width="0.9" />
<line x1="186.20" y1="124.56" x2="186.20" y2="145.98" stroke="#8f8f8f" stroke-width="0.9" />
<line x1="186.20" y1="145.98" x2="186.20" y2="167.40" stroke="#e2a6a6" stroke-width="0.9" />
<line x1="186.20" y1="126.96" x2="203.75" y2="135.87" stroke="#e2a6a6" stroke-width="0.9" />
<line x1="203.75" y1="135.87" x2="221.30" y2="144.78" stroke="#8f8f8f" stroke-width="0.9" />
<line x1="186.20" y1="165.00" x2="186.20" y2="186.42" stroke="#8f8f8f" stroke-width="0.9" />
<line x1="186.20" y1="186.42" x2="186.20" y2="207.84" stroke="#e2a6a6" stroke-width="0.9" />
<line x1="186.20" y1="167.40" x2="203.75" y2="176.31" stroke="#e2a6a6" stroke-width="0.9" />
<line x1="203.75" y1="176.31" x2="221.30" y2="185.22" stroke="#8f8f8f" stroke-width="0.9" />
<line x1="186.20" y1="165.00" x2="203.75" y2="156.09" stroke="#8f8f8f" stroke-width="0.9" />
<line x1="203.75" y1="156.09" x2="221.30" y2="147.18" stroke="#e2a6a6" stroke-width="0.9" />
<line x1="186.20" y1="205.44" x2="186.20" y2="226.86" stroke="#8f8f8f" stroke-width="0.9" />
<line x1="186.20" y1="226.86" x2="186.20" y2="248.28" stroke="#e2a6a6" stroke-width="0.9" />
<line x1="186.20" y1="207.84" x2="203.75" y2="216.75" stroke="#e2a6a6" stroke-width="0.9" />
<line x1="203.75" y1="216.75" x2="221.30" y2="225.66" stroke="#8f8f8f" stroke-width="0.9" />
<line x1="186.20" y1="205.44" x2="203.75" y2="196.53" stroke="#8f8f8f" stroke-width="0.9" />
<line x1="203.75" y1="196.53" x2="221.30" y2="187.62" stroke="#e2a6a6" stroke-width="0.9" />
<line x1="186.20" y1="245.88" x2="186.20" y2="267.30" stroke="#8f8f8f" stroke-width="0.9" />
<line x1="186.20" y1="267.30" x2="186.20" y2="288.72" stroke="#e2a6a6" stroke-width="0.9" />
<line x1="186.20" y1="248.28" x2="203.75" y2="257.19" stroke="#e2a6a6" stroke-width="0.9" />
<line x1="203.75" y1="257.19" x2="221.30" y2="266.10" stroke="#8f8f8f" stroke-width="0.9" />
<line x1="186.20" y1="245.88" x2="203.75" y2="236.97" stroke="#8f8f8f" stroke-width="0.9" />
<line x1="203.75" y1="236.97" x2="221.30" y2="228.06" stroke="#e2a6a6" stroke-width="0.9" />
<line x1="186.20" y1="286.32" x2="186.20" y2="307.74" stroke="#8f8f8f" stroke-width="0.9" />
<line x1="186.20" y1="307.74" x2="186.20" y2="329.16" stroke="#e2a6a6" stroke-width="0.9" />
<line x1="186.20" y1="288.72" x2="203.75" y2="297.63" stroke="#e2a6a6" stroke-width="0.9" />
<line x1="203.75" y1="297.63" x2="221.30" y2="306.54" stroke="#8f8f8f" stroke-width="0.9" />
<line x1="186.20" y1="286.32" x2="203.75" y2="277.41" stroke="#8f8f8f" stroke-width="0.9" />
<line x1="203.75" y1="277.41" x2="221.30" y2="268.50" stroke="#e2a6a6" stroke-width="0.9" />
<line x1="186.20" y1="326.76" x2="203.75" y2="317.85" stroke="#8f8f8f" stroke-width="0.9" />
<line x1="203.75" y1="317.85" x2="221.30" y2="308.94" stroke="#e2a6a6" stroke-width="0.9" />
<line x1="221.30" y1="104.34" x2="221.30" y2="125.76" stroke="#8f8f8f" stroke-width="0.9" />
<line x1="221.30" y1="125.76" x2="221.30" y2="147.18" stroke="#e2a6a6" stroke-width="0.9" />
<line x1="221.30" y1="144.78" x2="221.30" y2="166.20" stroke="#8f8f8f" stroke-width="0.9" />
<line x1="221.30" y1="166.20" x2="221.30" y2="187.62" stroke="#e2a6a6" stroke-width="0.9" />
<line x1="221.30" y1="147.18" x2="238.85" y2="156.09" stroke="#e2a6a6" stroke-width="0.9" />
<line x1="238.85" y1="156.09" x2="256.40" y2="165.00" stroke="#8f8f8f" stroke-width="0.9" />
<line x1="221.30" y1="144.78" x2="238.85" y2="135.87" stroke="#8f8f8f" stroke-width="0.9" />
<line x1="238.85" y1="135.87" x2="256.40" y2="126.96" stroke="#e2a6a6" stroke-width="0.9" />
<line x1="221.30" y1="185.22" x2="221.30" y2="206.64" stroke="#8f8f8f" stroke-width="0.9" />
<line x1="221.30" y1="206.64" x2="221.30" y2="228.06" stroke="#e2a6a6" stroke-width="0.9" />
<line x1="221.30" y1="187.62" x2="238.85" y2="196.53" stroke="#e2a6a6" stroke-width="0.9" />
<line x1="238.85" y1="196.53" x2="256.40" y2="205.44" stroke="#8f8f8f" stroke-width="0.9" />
<line x1="221.30" y1="185.22" x2="238.85" y2="176.31" stroke="#8f8f8f" stroke-width="0.9" />
<line x1="238.85" y1="176.31" x2="256.40" y2="167.40" stroke="#e2a6a6" stroke-width="0.9" />
<line x1="221.30" y1="225.66" x2="221.30" y2="247.08" stroke="#8f8f8f" stroke-width="0.9" />
<line x1="221.30" y1="247.08" x2="221.30" y2="268.50" stroke="#e2a6a6" stroke-width="0.9" />
<line x1="221.30" y1="228.06" x2="238.85" y2="236.97" stroke="#e2a6a6" stroke-width="0.9" />
<line x1="238.85" y1="236.97" x2="256.40" y2="245.88" stroke="#8f8f8f" stroke-width="0.9" />
<line x1="221.30" y1="225.66" x2="238.85" y2="216.75" stroke="#8f8f8f" stroke-width="0.9" />
<line x1="238.85" y1="216.75" x2="256.40" y2="207.84" stroke="#e2a6a6" stroke-width="0.9" />
<line x1="221.30" y1="266.10" x2="221.30" y2="287.52" stroke="#8f8f8f" stroke-width="0.9" />
<line x1="221.30" y1="287.52" x2="221.30" y2="308.94" stroke="#e2a6a6" stroke-width="0.9" />
<line x1="221.30" y1="268.50" x2="238.85" y2="277.41" stroke="#e2a6a6" stroke-width="0.9" />
<line x1="238.85" y1="277.41" x2="256.40" y2="286.32" stroke="#8f8f8f" stroke-width="0.9" />
<line x1="221.30" y1="266.10" x2="238.85" y2="257.19" stroke="#8f8f8f" stroke-width="0.9" />
<line x1="238.85" y1="257.19" x2="256.40" y2="248.28" stroke="#e2a6a6" stroke-width="0.9" />
<line x1="221.30" y1="306.54" x2="221.30" y2="327.96" stroke="#8f8f8f" stroke-width="0.9" />
<line x1="221.30" y1="327.96" x2="221.30" y2="349.38" stroke="#e2a6a6" stroke-width="0.9" />
<line x1="221.30" y1="308.94" x2="238.85" y2="317.85" stroke="#e2a6a6" stroke-width="0.9" />
<line x1="238.85" y1="317.85" x2="256.40" y2="326.76" stroke="#8f8f8f" stroke-width="0.9" />
<line x1="221.30" y1="306.54" x2="238.85" y2="297.63" stroke="#8f8f8f" stroke-width="0.9" />
<line x1="238.85" y1="297.63" x2="256.40" y2="288.72" stroke="#e2a6a6" stroke-width="0.9" />
<circle cx="45.7" cy="169.3" r="7.3" fill="url(#gZn)"/>
<circle cx="116.2" cy="163.6" r="7.3" fill="url(#gZn)"/>
<circle cx="185.8" cy="168.2" r="7.3" fill="url(#gZn)"/>
<circle cx="46.7" cy="285.9" r="7.3" fill="url(#gZn)"/>
<circle cx="116.5" cy="288.5" r="7.3" fill="url(#gZn)"/>
<circle cx="186.8" cy="285.5" r="7.3" fill="url(#gZn)"/>
</g>
<line x1="38.20" y1="168.00" x2="38.20" y2="286.40" stroke="#8a8a8a" stroke-width="0.9" />
<line x1="194.00" y1="168.00" x2="194.00" y2="286.40" stroke="#c8c8c8" stroke-width="0.8" />
<line x1="38.20" y1="286.40" x2="194.00" y2="286.40" stroke="#cfcfcf" stroke-width="0.8" />
<line x1="38.20" y1="168.00" x2="194.00" y2="168.00" stroke="#e4e4e4" stroke-width="0.6" />
<circle cx="116.5" cy="195.6" r="6.7" fill="url(#gLi)"/>
<circle cx="116.5" cy="250.0" r="6.7" fill="url(#gLi)"/>
<circle cx="83.4" cy="225.0" r="6.1" fill="url(#gCo)"/>
<circle cx="150.8" cy="226.9" r="6.1" fill="url(#gCo)"/>
<line x1="76.0" y1="229.4" x2="98.5" y2="213.8" stroke="#8e5054" stroke-width="3.4" stroke-linecap="round"/>
<line x1="76.0" y1="229.4" x2="98.5" y2="213.8" stroke="#c98282" stroke-width="2.30" stroke-linecap="round"/>
<line x1="76.0" y1="229.4" x2="98.5" y2="213.8" stroke="#a46266" stroke-width="0.6" stroke-linecap="round"/>
<line x1="98.5" y1="213.8" x2="132.3" y2="233.1" stroke="#8e5054" stroke-width="4.4" stroke-linecap="round"/>
<line x1="98.5" y1="213.8" x2="132.3" y2="233.1" stroke="#c98282" stroke-width="3.30" stroke-linecap="round"/>
<line x1="98.5" y1="213.8" x2="132.3" y2="233.1" stroke="#a46266" stroke-width="0.6" stroke-linecap="round"/>
<line x1="132.3" y1="233.1" x2="155.4" y2="215.0" stroke="#8e5054" stroke-width="3.4" stroke-linecap="round"/>
<line x1="132.3" y1="233.1" x2="155.4" y2="215.0" stroke="#c98282" stroke-width="2.30" stroke-linecap="round"/>
<line x1="132.3" y1="233.1" x2="155.4" y2="215.0" stroke="#a46266" stroke-width="0.6" stroke-linecap="round"/>
<circle cx="76.0" cy="229.4" r="7.0" fill="url(#gS)"/>
<circle cx="98.5" cy="213.8" r="7.0" fill="url(#gS)"/>
<circle cx="132.3" cy="233.1" r="7.0" fill="url(#gS)"/>
<circle cx="155.4" cy="215.0" r="7.0" fill="url(#gS)"/>
<line x1="67.90" y1="241.30" x2="72.30" y2="235.60" stroke="#111" stroke-width="1.25" />
<line x1="91.60" y1="201.30" x2="96.00" y2="208.80" stroke="#111" stroke-width="1.25" />
<line x1="136.60" y1="240.00" x2="139.80" y2="245.60" stroke="#111" stroke-width="1.25" />
<line x1="162.90" y1="207.30" x2="156.00" y2="211.90" stroke="#111" stroke-width="1.25" />
<text x="61.20" y="251.20" font-size="9" text-anchor="start" fill="#111" stroke="#111" stroke-width="0.22" >S1</text>
<text x="82.80" y="199.30" font-size="9" text-anchor="start" fill="#111" stroke="#111" stroke-width="0.22" >S2</text>
<text x="137.40" y="256.60" font-size="9" text-anchor="start" fill="#111" stroke="#111" stroke-width="0.22" >S3</text>
<text x="165.80" y="207.00" font-size="9" text-anchor="start" fill="#111" stroke="#111" stroke-width="0.22" >S4</text>
<text x="69.60" y="217.00" font-size="9" text-anchor="start" fill="#111" stroke="#111" stroke-width="0.22" >Co</text>
<text x="155.60" y="240.20" font-size="9" text-anchor="start" fill="#111" stroke="#111" stroke-width="0.22" >Co</text>
<circle cx="43.8" cy="299.6" r="5.3" fill="url(#gZn)"/>
<text x="51.80" y="302.80" font-size="9" text-anchor="start" fill="#111" stroke="#111" stroke-width="0.22" >Zn</text>
<circle cx="87.1" cy="299.6" r="5.3" fill="url(#gCoL)"/>
<text x="95.00" y="302.80" font-size="9" text-anchor="start" fill="#111" stroke="#111" stroke-width="0.22" >Co</text>
<circle cx="130.9" cy="299.6" r="5.3" fill="url(#gS)"/>
<text x="138.90" y="302.80" font-size="9" text-anchor="start" fill="#111" stroke="#111" stroke-width="0.22" >S</text>
<circle cx="174.8" cy="299.6" r="5.3" fill="url(#gLi)"/>
<text x="182.70" y="302.80" font-size="9" text-anchor="start" fill="#111" stroke="#111" stroke-width="0.22" >Li</text>
<text x="220.60" y="168.60" font-size="8.5" text-anchor="start" fill="#000" font-weight="bold" >e</text>
<rect x="247.10" y="166.20" width="153.90" height="122.40" fill="none" stroke="#8c8c8c" stroke-width="1" />
<line x1="244.10" y1="188.50" x2="247.10" y2="188.50" stroke="#8c8c8c" stroke-width="1" />
<text x="241.50" y="191.70" font-size="9" text-anchor="end" fill="#1a1a1a" stroke="#1a1a1a" stroke-width="0.22" >0.0</text>
<line x1="244.10" y1="234.05" x2="247.10" y2="234.05" stroke="#8c8c8c" stroke-width="1" />
<text x="241.50" y="237.25" font-size="9" text-anchor="end" fill="#1a1a1a" stroke="#1a1a1a" stroke-width="0.22" >−0.1</text>
<line x1="244.10" y1="279.60" x2="247.10" y2="279.60" stroke="#8c8c8c" stroke-width="1" />
<text x="241.50" y="282.80" font-size="9" text-anchor="end" fill="#1a1a1a" stroke="#1a1a1a" stroke-width="0.22" >−0.2</text>
<line x1="245.30" y1="211.28" x2="247.10" y2="211.28" stroke="#8c8c8c" stroke-width="1" />
<line x1="245.30" y1="256.82" x2="247.10" y2="256.82" stroke="#8c8c8c" stroke-width="1" />
<line x1="262.50" y1="288.60" x2="262.50" y2="291.40" stroke="#8c8c8c" stroke-width="1" />
<text x="262.50" y="302.40" font-size="9" text-anchor="middle" fill="#1a1a1a" stroke="#1a1a1a" stroke-width="0.22" >Mn</text>
<line x1="293.22" y1="288.60" x2="293.22" y2="291.40" stroke="#8c8c8c" stroke-width="1" />
<text x="293.22" y="302.40" font-size="9" text-anchor="middle" fill="#1a1a1a" stroke="#1a1a1a" stroke-width="0.22" >Fe</text>
<line x1="323.94" y1="288.60" x2="323.94" y2="291.40" stroke="#8c8c8c" stroke-width="1" />
<text x="323.94" y="302.40" font-size="9" text-anchor="middle" fill="#1a1a1a" stroke="#1a1a1a" stroke-width="0.22" >Co</text>
<line x1="354.66" y1="288.60" x2="354.66" y2="291.40" stroke="#8c8c8c" stroke-width="1" />
<text x="354.66" y="302.40" font-size="9" text-anchor="middle" fill="#1a1a1a" stroke="#1a1a1a" stroke-width="0.22" >Ni</text>
<line x1="385.38" y1="288.60" x2="385.38" y2="291.40" stroke="#8c8c8c" stroke-width="1" />
<text x="385.38" y="302.40" font-size="9" text-anchor="middle" fill="#1a1a1a" stroke="#1a1a1a" stroke-width="0.22" >Cu</text>
<line x1="262.50" y1="270.60" x2="385.90" y2="177.40" stroke="#1a1a1a" stroke-width="1.4" />
<circle cx="262.50" cy="277.2" r="3.2" fill="none" stroke="#6a6a6a" stroke-width="0.8"/>
<circle cx="293.22" cy="247.75" r="3.2" fill="none" stroke="#6a6a6a" stroke-width="0.8"/>
<circle cx="323.94" cy="213.8" r="3.2" fill="none" stroke="#6a6a6a" stroke-width="0.8"/>
<circle cx="354.66" cy="193.2" r="3.2" fill="none" stroke="#6a6a6a" stroke-width="0.8"/>
<circle cx="385.38" cy="188.5" r="3.2" fill="none" stroke="#6a6a6a" stroke-width="0.8"/>
<text x="0.00" y="0.00" font-size="9" text-anchor="middle" fill="#1a1a1a" stroke="#1a1a1a" stroke-width="0.22" transform="translate(220.1,236.6) rotate(-90)">ΔBader charge (e)</text>
<text x="424.20" y="168.40" font-size="8.5" text-anchor="start" fill="#000" font-weight="bold" >f</text>
<line x1="452.80" y1="166.20" x2="606.60" y2="166.20" stroke="#8c8c8c" stroke-width="1" />
<line x1="452.80" y1="166.20" x2="452.80" y2="288.40" stroke="#8c8c8c" stroke-width="1" />
<line x1="452.80" y1="288.40" x2="606.60" y2="288.40" stroke="#8c8c8c" stroke-width="1" />
<line x1="606.60" y1="166.20" x2="606.60" y2="288.40" stroke="#56789c" stroke-width="1" />
<line x1="449.80" y1="279.40" x2="452.80" y2="279.40" stroke="#8c8c8c" stroke-width="1" />
<text x="447.20" y="282.60" font-size="9" text-anchor="end" fill="#1a1a1a" stroke="#1a1a1a" stroke-width="0.22" >2.0</text>
<line x1="449.80" y1="234.00" x2="452.80" y2="234.00" stroke="#8c8c8c" stroke-width="1" />
<text x="447.20" y="237.20" font-size="9" text-anchor="end" fill="#1a1a1a" stroke="#1a1a1a" stroke-width="0.22" >2.1</text>
<line x1="449.80" y1="188.60" x2="452.80" y2="188.60" stroke="#8c8c8c" stroke-width="1" />
<text x="447.20" y="191.80" font-size="9" text-anchor="end" fill="#1a1a1a" stroke="#1a1a1a" stroke-width="0.22" >2.2</text>
<line x1="451.00" y1="256.70" x2="452.80" y2="256.70" stroke="#8c8c8c" stroke-width="1" />
<line x1="451.00" y1="211.30" x2="452.80" y2="211.30" stroke="#8c8c8c" stroke-width="1" />
<line x1="606.60" y1="278.10" x2="609.60" y2="278.10" stroke="#56789c" stroke-width="1" />
<text x="612.00" y="281.30" font-size="9" text-anchor="start" fill="#56789c" stroke="#56789c" stroke-width="0.22" >2</text>
<line x1="606.60" y1="241.00" x2="609.60" y2="241.00" stroke="#56789c" stroke-width="1" />
<text x="612.00" y="244.20" font-size="9" text-anchor="start" fill="#56789c" stroke="#56789c" stroke-width="0.22" >3</text>
<line x1="606.60" y1="203.90" x2="609.60" y2="203.90" stroke="#56789c" stroke-width="1" />
<text x="612.00" y="207.10" font-size="9" text-anchor="start" fill="#56789c" stroke="#56789c" stroke-width="0.22" >4</text>
<line x1="606.60" y1="166.80" x2="609.60" y2="166.80" stroke="#56789c" stroke-width="1" />
<text x="612.00" y="170.00" font-size="9" text-anchor="start" fill="#56789c" stroke="#56789c" stroke-width="0.22" >5</text>
<line x1="606.60" y1="259.55" x2="608.40" y2="259.55" stroke="#56789c" stroke-width="1" />
<line x1="606.60" y1="222.45" x2="608.40" y2="222.45" stroke="#56789c" stroke-width="1" />
<line x1="606.60" y1="185.35" x2="608.40" y2="185.35" stroke="#56789c" stroke-width="1" />
<line x1="468.40" y1="288.40" x2="468.40" y2="291.20" stroke="#8c8c8c" stroke-width="1" />
<text x="468.40" y="302.60" font-size="9" text-anchor="middle" fill="#1a1a1a" stroke="#1a1a1a" stroke-width="0.22" >Mn</text>
<line x1="498.90" y1="288.40" x2="498.90" y2="291.20" stroke="#8c8c8c" stroke-width="1" />
<text x="498.90" y="302.60" font-size="9" text-anchor="middle" fill="#1a1a1a" stroke="#1a1a1a" stroke-width="0.22" >Fe</text>
<line x1="529.40" y1="288.40" x2="529.40" y2="291.20" stroke="#8c8c8c" stroke-width="1" />
<text x="529.40" y="302.60" font-size="9" text-anchor="middle" fill="#1a1a1a" stroke="#1a1a1a" stroke-width="0.22" >Co</text>
<line x1="559.90" y1="288.40" x2="559.90" y2="291.20" stroke="#8c8c8c" stroke-width="1" />
<text x="559.90" y="302.60" font-size="9" text-anchor="middle" fill="#1a1a1a" stroke="#1a1a1a" stroke-width="0.22" >Ni</text>
<line x1="590.90" y1="288.40" x2="590.90" y2="291.20" stroke="#8c8c8c" stroke-width="1" />
<text x="590.90" y="302.60" font-size="9" text-anchor="middle" fill="#1a1a1a" stroke="#1a1a1a" stroke-width="0.22" >Cu</text>
<line x1="468.40" y1="277.90" x2="591.60" y2="191.30" stroke="#b0252c" stroke-width="1.4" />
<line x1="468.20" y1="182.90" x2="591.25" y2="276.00" stroke="#1f64a0" stroke-width="1.4" />
<circle cx="468.40" cy="177.8" r="3.2" fill="none" stroke="#4a82b0" stroke-width="0.8"/>
<circle cx="498.90" cy="199.75" r="3.2" fill="none" stroke="#4a82b0" stroke-width="0.8"/>
<circle cx="529.40" cy="245.3" r="3.2" fill="none" stroke="#4a82b0" stroke-width="0.8"/>
<circle cx="559.90" cy="258.2" r="3.2" fill="none" stroke="#4a82b0" stroke-width="0.8"/>
<circle cx="590.90" cy="265.3" r="3.2" fill="none" stroke="#4a82b0" stroke-width="0.8"/>
<polygon points="465.00,274.10 471.46,270.87 471.46,277.33" fill="none" stroke="#c0484c" stroke-width="0.8"/>
<polygon points="495.50,249.40 501.96,246.17 501.96,252.63" fill="none" stroke="#c0484c" stroke-width="0.8"/>
<polygon points="526.00,245.60 532.46,242.37 532.46,248.83" fill="none" stroke="#c0484c" stroke-width="0.8"/>
<polygon points="556.50,225.60 562.96,222.37 562.96,228.83" fill="none" stroke="#c0484c" stroke-width="0.8"/>
<polygon points="587.50,178.20 593.96,174.97 593.96,181.43" fill="none" stroke="#c0484c" stroke-width="0.8"/>
<polyline points="481.9,264.4 481.9,258.8 461.5,258.8" fill="none" stroke="#b0252c" stroke-width="1.1"/>
<polygon points="457.6,258.8 463.6,256.0 463.6,261.6" fill="#b0252c"/>
<polyline points="574.4,258.4 574.4,245.6 596.4,245.6" fill="none" stroke="#2d4a78" stroke-width="1.1"/>
<polygon points="600.2,245.6 594.2,242.8 594.2,248.4" fill="#2d4a78"/>
<text x="0.00" y="0.00" font-size="9" text-anchor="middle" fill="#1a1a1a" stroke="#1a1a1a" stroke-width="0.22" transform="translate(426.8,227.3) rotate(-90)">M-S bond length (Å)</text>
<text x="0.00" y="0.00" font-size="9" text-anchor="middle" fill="#56789c" stroke="#56789c" stroke-width="0.22" transform="translate(631.6,227.3) rotate(-90)">S-S bond length (Å)</text>
<text x="10.40" y="330.80" font-size="8.5" text-anchor="start" fill="#000" font-weight="bold" >g</text>
<line x1="44.50" y1="363.00" x2="60.00" y2="368.00" stroke="#be9c9c" stroke-width="0.65" />
<line x1="60.00" y1="368.00" x2="60.00" y2="372.80" stroke="#be9c9c" stroke-width="0.65" />
<line x1="60.00" y1="372.80" x2="44.50" y2="377.80" stroke="#be9c9c" stroke-width="0.65" />
<line x1="44.50" y1="377.80" x2="29.00" y2="372.80" stroke="#be9c9c" stroke-width="0.65" />
<line x1="29.00" y1="372.80" x2="29.00" y2="368.00" stroke="#be9c9c" stroke-width="0.65" />
<line x1="29.00" y1="368.00" x2="44.50" y2="363.00" stroke="#be9c9c" stroke-width="0.65" />
<line x1="75.50" y1="363.00" x2="91.00" y2="368.00" stroke="#be9c9c" stroke-width="0.65" />
<line x1="91.00" y1="368.00" x2="91.00" y2="372.80" stroke="#be9c9c" stroke-width="0.65" />
<line x1="91.00" y1="372.80" x2="75.50" y2="377.80" stroke="#be9c9c" stroke-width="0.65" />
<line x1="75.50" y1="377.80" x2="60.00" y2="372.80" stroke="#be9c9c" stroke-width="0.65" />
<line x1="60.00" y1="372.80" x2="60.00" y2="368.00" stroke="#be9c9c" stroke-width="0.65" />
<line x1="60.00" y1="368.00" x2="75.50" y2="363.00" stroke="#be9c9c" stroke-width="0.65" />
<line x1="106.50" y1="363.00" x2="122.00" y2="368.00" stroke="#be9c9c" stroke-width="0.65" />
<line x1="122.00" y1="368.00" x2="122.00" y2="372.80" stroke="#be9c9c" stroke-width="0.65" />
<line x1="122.00" y1="372.80" x2="106.50" y2="377.80" stroke="#be9c9c" stroke-width="0.65" />
<line x1="106.50" y1="377.80" x2="91.00" y2="372.80" stroke="#be9c9c" stroke-width="0.65" />
<line x1="91.00" y1="372.80" x2="91.00" y2="368.00" stroke="#be9c9c" stroke-width="0.65" />
<line x1="91.00" y1="368.00" x2="106.50" y2="363.00" stroke="#be9c9c" stroke-width="0.65" />
<line x1="41.20" y1="382.10" x2="56.70" y2="386.80" stroke="#be9c9c" stroke-width="0.65" />
<line x1="56.70" y1="386.80" x2="56.70" y2="391.80" stroke="#be9c9c" stroke-width="0.65" />
<line x1="56.70" y1="391.80" x2="41.20" y2="396.50" stroke="#be9c9c" stroke-width="0.65" />
<line x1="41.20" y1="396.50" x2="25.70" y2="391.80" stroke="#be9c9c" stroke-width="0.65" />
<line x1="25.70" y1="391.80" x2="25.70" y2="386.80" stroke="#be9c9c" stroke-width="0.65" />
<line x1="25.70" y1="386.80" x2="41.20" y2="382.10" stroke="#be9c9c" stroke-width="0.65" />
<line x1="72.20" y1="382.10" x2="87.70" y2="386.80" stroke="#be9c9c" stroke-width="0.65" />
<line x1="87.70" y1="386.80" x2="87.70" y2="391.80" stroke="#be9c9c" stroke-width="0.65" />
<line x1="87.70" y1="391.80" x2="72.20" y2="396.50" stroke="#be9c9c" stroke-width="0.65" />
<line x1="72.20" y1="396.50" x2="56.70" y2="391.80" stroke="#be9c9c" stroke-width="0.65" />
<line x1="56.70" y1="391.80" x2="56.70" y2="386.80" stroke="#be9c9c" stroke-width="0.65" />
<line x1="56.70" y1="386.80" x2="72.20" y2="382.10" stroke="#be9c9c" stroke-width="0.65" />
<line x1="103.20" y1="382.10" x2="118.70" y2="386.80" stroke="#be9c9c" stroke-width="0.65" />
<line x1="118.70" y1="386.80" x2="118.70" y2="391.80" stroke="#be9c9c" stroke-width="0.65" />
<line x1="118.70" y1="391.80" x2="103.20" y2="396.50" stroke="#be9c9c" stroke-width="0.65" />
<line x1="103.20" y1="396.50" x2="87.70" y2="391.80" stroke="#be9c9c" stroke-width="0.65" />
<line x1="87.70" y1="391.80" x2="87.70" y2="386.80" stroke="#be9c9c" stroke-width="0.65" />
<line x1="87.70" y1="386.80" x2="103.20" y2="382.10" stroke="#be9c9c" stroke-width="0.65" />
<line x1="25.20" y1="402.00" x2="40.70" y2="411.80" stroke="#be9c9c" stroke-width="0.65" />
<line x1="40.70" y1="411.80" x2="56.20" y2="402.00" stroke="#be9c9c" stroke-width="0.65" />
<line x1="56.20" y1="402.00" x2="71.70" y2="411.80" stroke="#be9c9c" stroke-width="0.65" />
<line x1="71.70" y1="411.80" x2="87.20" y2="402.00" stroke="#be9c9c" stroke-width="0.65" />
<line x1="87.20" y1="402.00" x2="102.70" y2="411.80" stroke="#be9c9c" stroke-width="0.65" />
<line x1="102.70" y1="411.80" x2="118.20" y2="402.00" stroke="#be9c9c" stroke-width="0.65" />
<line x1="44.50" y1="363.00" x2="41.20" y2="382.10" stroke="#be9c9c" stroke-width="0.65" />
<line x1="44.50" y1="377.80" x2="41.20" y2="396.50" stroke="#be9c9c" stroke-width="0.65" />
<line x1="29.00" y1="372.80" x2="25.70" y2="391.80" stroke="#be9c9c" stroke-width="0.65" />
<line x1="44.50" y1="363.00" x2="44.80" y2="357.50" stroke="#be9c9c" stroke-width="0.65" />
<line x1="75.50" y1="363.00" x2="72.20" y2="382.10" stroke="#be9c9c" stroke-width="0.65" />
<line x1="75.50" y1="377.80" x2="72.20" y2="396.50" stroke="#be9c9c" stroke-width="0.65" />
<line x1="60.00" y1="372.80" x2="56.70" y2="391.80" stroke="#be9c9c" stroke-width="0.65" />
<line x1="75.50" y1="363.00" x2="75.80" y2="357.50" stroke="#be9c9c" stroke-width="0.65" />
<line x1="106.50" y1="363.00" x2="103.20" y2="382.10" stroke="#be9c9c" stroke-width="0.65" />
<line x1="106.50" y1="377.80" x2="103.20" y2="396.50" stroke="#be9c9c" stroke-width="0.65" />
<line x1="91.00" y1="372.80" x2="87.70" y2="391.80" stroke="#be9c9c" stroke-width="0.65" />
<line x1="122.00" y1="372.80" x2="118.70" y2="391.80" stroke="#be9c9c" stroke-width="0.65" />
<line x1="106.50" y1="363.00" x2="106.80" y2="357.50" stroke="#be9c9c" stroke-width="0.65" />
<line x1="41.20" y1="396.50" x2="40.70" y2="411.80" stroke="#be9c9c" stroke-width="0.65" />
<line x1="25.70" y1="391.80" x2="25.20" y2="402.00" stroke="#be9c9c" stroke-width="0.65" />
<line x1="72.20" y1="396.50" x2="71.70" y2="411.80" stroke="#be9c9c" stroke-width="0.65" />
<line x1="56.70" y1="391.80" x2="56.20" y2="402.00" stroke="#be9c9c" stroke-width="0.65" />
<line x1="103.20" y1="396.50" x2="102.70" y2="411.80" stroke="#be9c9c" stroke-width="0.65" />
<line x1="87.70" y1="391.80" x2="87.20" y2="402.00" stroke="#be9c9c" stroke-width="0.65" />
<line x1="118.70" y1="391.80" x2="118.20" y2="402.00" stroke="#be9c9c" stroke-width="0.65" />
<line x1="25.70" y1="386.80" x2="40.70" y2="402.80" stroke="#be9c9c" stroke-width="0.65" />
<line x1="56.70" y1="386.80" x2="71.70" y2="402.80" stroke="#be9c9c" stroke-width="0.65" />
<line x1="87.70" y1="386.80" x2="102.70" y2="402.80" stroke="#be9c9c" stroke-width="0.65" />
<line x1="167.30" y1="363.00" x2="182.80" y2="368.00" stroke="#be9c9c" stroke-width="0.65" />
<line x1="182.80" y1="368.00" x2="182.80" y2="372.80" stroke="#be9c9c" stroke-width="0.65" />
<line x1="182.80" y1="372.80" x2="167.30" y2="377.80" stroke="#be9c9c" stroke-width="0.65" />
<line x1="167.30" y1="377.80" x2="151.80" y2="372.80" stroke="#be9c9c" stroke-width="0.65" />
<line x1="151.80" y1="372.80" x2="151.80" y2="368.00" stroke="#be9c9c" stroke-width="0.65" />
<line x1="151.80" y1="368.00" x2="167.30" y2="363.00" stroke="#be9c9c" stroke-width="0.65" />
<line x1="198.30" y1="363.00" x2="213.80" y2="368.00" stroke="#be9c9c" stroke-width="0.65" />
<line x1="213.80" y1="368.00" x2="213.80" y2="372.80" stroke="#be9c9c" stroke-width="0.65" />
<line x1="213.80" y1="372.80" x2="198.30" y2="377.80" stroke="#be9c9c" stroke-width="0.65" />
<line x1="198.30" y1="377.80" x2="182.80" y2="372.80" stroke="#be9c9c" stroke-width="0.65" />
<line x1="182.80" y1="372.80" x2="182.80" y2="368.00" stroke="#be9c9c" stroke-width="0.65" />
<line x1="182.80" y1="368.00" x2="198.30" y2="363.00" stroke="#be9c9c" stroke-width="0.65" />
<line x1="229.30" y1="363.00" x2="244.80" y2="368.00" stroke="#be9c9c" stroke-width="0.65" />
<line x1="244.80" y1="368.00" x2="244.80" y2="372.80" stroke="#be9c9c" stroke-width="0.65" />
<line x1="244.80" y1="372.80" x2="229.30" y2="377.80" stroke="#be9c9c" stroke-width="0.65" />
<line x1="229.30" y1="377.80" x2="213.80" y2="372.80" stroke="#be9c9c" stroke-width="0.65" />
<line x1="213.80" y1="372.80" x2="213.80" y2="368.00" stroke="#be9c9c" stroke-width="0.65" />
<line x1="213.80" y1="368.00" x2="229.30" y2="363.00" stroke="#be9c9c" stroke-width="0.65" />
<line x1="164.00" y1="382.10" x2="179.50" y2="386.80" stroke="#be9c9c" stroke-width="0.65" />
<line x1="179.50" y1="386.80" x2="179.50" y2="391.80" stroke="#be9c9c" stroke-width="0.65" />
<line x1="179.50" y1="391.80" x2="164.00" y2="396.50" stroke="#be9c9c" stroke-width="0.65" />
<line x1="164.00" y1="396.50" x2="148.50" y2="391.80" stroke="#be9c9c" stroke-width="0.65" />
<line x1="148.50" y1="391.80" x2="148.50" y2="386.80" stroke="#be9c9c" stroke-width="0.65" />
<line x1="148.50" y1="386.80" x2="164.00" y2="382.10" stroke="#be9c9c" stroke-width="0.65" />
<line x1="195.00" y1="382.10" x2="210.50" y2="386.80" stroke="#be9c9c" stroke-width="0.65" />
<line x1="210.50" y1="386.80" x2="210.50" y2="391.80" stroke="#be9c9c" stroke-width="0.65" />
<line x1="210.50" y1="391.80" x2="195.00" y2="396.50" stroke="#be9c9c" stroke-width="0.65" />
<line x1="195.00" y1="396.50" x2="179.50" y2="391.80" stroke="#be9c9c" stroke-width="0.65" />
<line x1="179.50" y1="391.80" x2="179.50" y2="386.80" stroke="#be9c9c" stroke-width="0.65" />
<line x1="179.50" y1="386.80" x2="195.00" y2="382.10" stroke="#be9c9c" stroke-width="0.65" />
<line x1="226.00" y1="382.10" x2="241.50" y2="386.80" stroke="#be9c9c" stroke-width="0.65" />
<line x1="241.50" y1="386.80" x2="241.50" y2="391.80" stroke="#be9c9c" stroke-width="0.65" />
<line x1="241.50" y1="391.80" x2="226.00" y2="396.50" stroke="#be9c9c" stroke-width="0.65" />
<line x1="226.00" y1="396.50" x2="210.50" y2="391.80" stroke="#be9c9c" stroke-width="0.65" />
<line x1="210.50" y1="391.80" x2="210.50" y2="386.80" stroke="#be9c9c" stroke-width="0.65" />
<line x1="210.50" y1="386.80" x2="226.00" y2="382.10" stroke="#be9c9c" stroke-width="0.65" />
<line x1="148.00" y1="402.00" x2="163.50" y2="411.80" stroke="#be9c9c" stroke-width="0.65" />
<line x1="163.50" y1="411.80" x2="179.00" y2="402.00" stroke="#be9c9c" stroke-width="0.65" />
<line x1="179.00" y1="402.00" x2="194.50" y2="411.80" stroke="#be9c9c" stroke-width="0.65" />
<line x1="194.50" y1="411.80" x2="210.00" y2="402.00" stroke="#be9c9c" stroke-width="0.65" />
<line x1="210.00" y1="402.00" x2="225.50" y2="411.80" stroke="#be9c9c" stroke-width="0.65" />
<line x1="225.50" y1="411.80" x2="241.00" y2="402.00" stroke="#be9c9c" stroke-width="0.65" />
<line x1="167.30" y1="363.00" x2="164.00" y2="382.10" stroke="#be9c9c" stroke-width="0.65" />
<line x1="167.30" y1="377.80" x2="164.00" y2="396.50" stroke="#be9c9c" stroke-width="0.65" />
<line x1="151.80" y1="372.80" x2="148.50" y2="391.80" stroke="#be9c9c" stroke-width="0.65" />
<line x1="167.30" y1="363.00" x2="167.60" y2="357.50" stroke="#be9c9c" stroke-width="0.65" />
<line x1="198.30" y1="363.00" x2="195.00" y2="382.10" stroke="#be9c9c" stroke-width="0.65" />
<line x1="198.30" y1="377.80" x2="195.00" y2="396.50" stroke="#be9c9c" stroke-width="0.65" />
<line x1="182.80" y1="372.80" x2="179.50" y2="391.80" stroke="#be9c9c" stroke-width="0.65" />
<line x1="198.30" y1="363.00" x2="198.60" y2="357.50" stroke="#be9c9c" stroke-width="0.65" />
<line x1="229.30" y1="363.00" x2="226.00" y2="382.10" stroke="#be9c9c" stroke-width="0.65" />
<line x1="229.30" y1="377.80" x2="226.00" y2="396.50" stroke="#be9c9c" stroke-width="0.65" />
<line x1="213.80" y1="372.80" x2="210.50" y2="391.80" stroke="#be9c9c" stroke-width="0.65" />
<line x1="244.80" y1="372.80" x2="241.50" y2="391.80" stroke="#be9c9c" stroke-width="0.65" />
<line x1="229.30" y1="363.00" x2="229.60" y2="357.50" stroke="#be9c9c" stroke-width="0.65" />
<line x1="164.00" y1="396.50" x2="163.50" y2="411.80" stroke="#be9c9c" stroke-width="0.65" />
<line x1="148.50" y1="391.80" x2="148.00" y2="402.00" stroke="#be9c9c" stroke-width="0.65" />
<line x1="195.00" y1="396.50" x2="194.50" y2="411.80" stroke="#be9c9c" stroke-width="0.65" />
<line x1="179.50" y1="391.80" x2="179.00" y2="402.00" stroke="#be9c9c" stroke-width="0.65" />
<line x1="226.00" y1="396.50" x2="225.50" y2="411.80" stroke="#be9c9c" stroke-width="0.65" />
<line x1="210.50" y1="391.80" x2="210.00" y2="402.00" stroke="#be9c9c" stroke-width="0.65" />
<line x1="241.50" y1="391.80" x2="241.00" y2="402.00" stroke="#be9c9c" stroke-width="0.65" />
<line x1="148.50" y1="386.80" x2="163.50" y2="402.80" stroke="#be9c9c" stroke-width="0.65" />
<line x1="179.50" y1="386.80" x2="194.50" y2="402.80" stroke="#be9c9c" stroke-width="0.65" />
<line x1="210.50" y1="386.80" x2="225.50" y2="402.80" stroke="#be9c9c" stroke-width="0.65" />
<line x1="293.00" y1="363.00" x2="308.50" y2="368.00" stroke="#be9c9c" stroke-width="0.65" />
<line x1="308.50" y1="368.00" x2="308.50" y2="372.80" stroke="#be9c9c" stroke-width="0.65" />
<line x1="308.50" y1="372.80" x2="293.00" y2="377.80" stroke="#be9c9c" stroke-width="0.65" />
<line x1="293.00" y1="377.80" x2="277.50" y2="372.80" stroke="#be9c9c" stroke-width="0.65" />
<line x1="277.50" y1="372.80" x2="277.50" y2="368.00" stroke="#be9c9c" stroke-width="0.65" />
<line x1="277.50" y1="368.00" x2="293.00" y2="363.00" stroke="#be9c9c" stroke-width="0.65" />
<line x1="324.00" y1="363.00" x2="339.50" y2="368.00" stroke="#be9c9c" stroke-width="0.65" />
<line x1="339.50" y1="368.00" x2="339.50" y2="372.80" stroke="#be9c9c" stroke-width="0.65" />
<line x1="339.50" y1="372.80" x2="324.00" y2="377.80" stroke="#be9c9c" stroke-width="0.65" />
<line x1="324.00" y1="377.80" x2="308.50" y2="372.80" stroke="#be9c9c" stroke-width="0.65" />
<line x1="308.50" y1="372.80" x2="308.50" y2="368.00" stroke="#be9c9c" stroke-width="0.65" />
<line x1="308.50" y1="368.00" x2="324.00" y2="363.00" stroke="#be9c9c" stroke-width="0.65" />
<line x1="355.00" y1="363.00" x2="370.50" y2="368.00" stroke="#be9c9c" stroke-width="0.65" />
<line x1="370.50" y1="368.00" x2="370.50" y2="372.80" stroke="#be9c9c" stroke-width="0.65" />
<line x1="370.50" y1="372.80" x2="355.00" y2="377.80" stroke="#be9c9c" stroke-width="0.65" />
<line x1="355.00" y1="377.80" x2="339.50" y2="372.80" stroke="#be9c9c" stroke-width="0.65" />
<line x1="339.50" y1="372.80" x2="339.50" y2="368.00" stroke="#be9c9c" stroke-width="0.65" />
<line x1="339.50" y1="368.00" x2="355.00" y2="363.00" stroke="#be9c9c" stroke-width="0.65" />
<line x1="289.70" y1="382.10" x2="305.20" y2="386.80" stroke="#be9c9c" stroke-width="0.65" />
<line x1="305.20" y1="386.80" x2="305.20" y2="391.80" stroke="#be9c9c" stroke-width="0.65" />
<line x1="305.20" y1="391.80" x2="289.70" y2="396.50" stroke="#be9c9c" stroke-width="0.65" />
<line x1="289.70" y1="396.50" x2="274.20" y2="391.80" stroke="#be9c9c" stroke-width="0.65" />
<line x1="274.20" y1="391.80" x2="274.20" y2="386.80" stroke="#be9c9c" stroke-width="0.65" />
<line x1="274.20" y1="386.80" x2="289.70" y2="382.10" stroke="#be9c9c" stroke-width="0.65" />
<line x1="320.70" y1="382.10" x2="336.20" y2="386.80" stroke="#be9c9c" stroke-width="0.65" />
<line x1="336.20" y1="386.80" x2="336.20" y2="391.80" stroke="#be9c9c" stroke-width="0.65" />
<line x1="336.20" y1="391.80" x2="320.70" y2="396.50" stroke="#be9c9c" stroke-width="0.65" />
<line x1="320.70" y1="396.50" x2="305.20" y2="391.80" stroke="#be9c9c" stroke-width="0.65" />
<line x1="305.20" y1="391.80" x2="305.20" y2="386.80" stroke="#be9c9c" stroke-width="0.65" />
<line x1="305.20" y1="386.80" x2="320.70" y2="382.10" stroke="#be9c9c" stroke-width="0.65" />
<line x1="351.70" y1="382.10" x2="367.20" y2="386.80" stroke="#be9c9c" stroke-width="0.65" />
<line x1="367.20" y1="386.80" x2="367.20" y2="391.80" stroke="#be9c9c" stroke-width="0.65" />
<line x1="367.20" y1="391.80" x2="351.70" y2="396.50" stroke="#be9c9c" stroke-width="0.65" />
<line x1="351.70" y1="396.50" x2="336.20" y2="391.80" stroke="#be9c9c" stroke-width="0.65" />
<line x1="336.20" y1="391.80" x2="336.20" y2="386.80" stroke="#be9c9c" stroke-width="0.65" />
<line x1="336.20" y1="386.80" x2="351.70" y2="382.10" stroke="#be9c9c" stroke-width="0.65" />
<line x1="273.70" y1="402.00" x2="289.20" y2="411.80" stroke="#be9c9c" stroke-width="0.65" />
<line x1="289.20" y1="411.80" x2="304.70" y2="402.00" stroke="#be9c9c" stroke-width="0.65" />
<line x1="304.70" y1="402.00" x2="320.20" y2="411.80" stroke="#be9c9c" stroke-width="0.65" />
<line x1="320.20" y1="411.80" x2="335.70" y2="402.00" stroke="#be9c9c" stroke-width="0.65" />
<line x1="335.70" y1="402.00" x2="351.20" y2="411.80" stroke="#be9c9c" stroke-width="0.65" />
<line x1="351.20" y1="411.80" x2="366.70" y2="402.00" stroke="#be9c9c" stroke-width="0.65" />
<line x1="293.00" y1="363.00" x2="289.70" y2="382.10" stroke="#be9c9c" stroke-width="0.65" />
<line x1="293.00" y1="377.80" x2="289.70" y2="396.50" stroke="#be9c9c" stroke-width="0.65" />
<line x1="277.50" y1="372.80" x2="274.20" y2="391.80" stroke="#be9c9c" stroke-width="0.65" />
<line x1="293.00" y1="363.00" x2="293.30" y2="357.50" stroke="#be9c9c" stroke-width="0.65" />
<line x1="324.00" y1="363.00" x2="320.70" y2="382.10" stroke="#be9c9c" stroke-width="0.65" />
<line x1="324.00" y1="377.80" x2="320.70" y2="396.50" stroke="#be9c9c" stroke-width="0.65" />
<line x1="308.50" y1="372.80" x2="305.20" y2="391.80" stroke="#be9c9c" stroke-width="0.65" />
<line x1="324.00" y1="363.00" x2="324.30" y2="357.50" stroke="#be9c9c" stroke-width="0.65" />
<line x1="355.00" y1="363.00" x2="351.70" y2="382.10" stroke="#be9c9c" stroke-width="0.65" />
<line x1="355.00" y1="377.80" x2="351.70" y2="396.50" stroke="#be9c9c" stroke-width="0.65" />
<line x1="339.50" y1="372.80" x2="336.20" y2="391.80" stroke="#be9c9c" stroke-width="0.65" />
<line x1="370.50" y1="372.80" x2="367.20" y2="391.80" stroke="#be9c9c" stroke-width="0.65" />
<line x1="355.00" y1="363.00" x2="355.30" y2="357.50" stroke="#be9c9c" stroke-width="0.65" />
<line x1="289.70" y1="396.50" x2="289.20" y2="411.80" stroke="#be9c9c" stroke-width="0.65" />
<line x1="274.20" y1="391.80" x2="273.70" y2="402.00" stroke="#be9c9c" stroke-width="0.65" />
<line x1="320.70" y1="396.50" x2="320.20" y2="411.80" stroke="#be9c9c" stroke-width="0.65" />
<line x1="305.20" y1="391.80" x2="304.70" y2="402.00" stroke="#be9c9c" stroke-width="0.65" />
<line x1="351.70" y1="396.50" x2="351.20" y2="411.80" stroke="#be9c9c" stroke-width="0.65" />
<line x1="336.20" y1="391.80" x2="335.70" y2="402.00" stroke="#be9c9c" stroke-width="0.65" />
<line x1="367.20" y1="391.80" x2="366.70" y2="402.00" stroke="#be9c9c" stroke-width="0.65" />
<line x1="274.20" y1="386.80" x2="289.20" y2="402.80" stroke="#be9c9c" stroke-width="0.65" />
<line x1="305.20" y1="386.80" x2="320.20" y2="402.80" stroke="#be9c9c" stroke-width="0.65" />
<line x1="336.20" y1="386.80" x2="351.20" y2="402.80" stroke="#be9c9c" stroke-width="0.65" />
<line x1="416.00" y1="363.00" x2="431.50" y2="368.00" stroke="#be9c9c" stroke-width="0.65" />
<line x1="431.50" y1="368.00" x2="431.50" y2="372.80" stroke="#be9c9c" stroke-width="0.65" />
<line x1="431.50" y1="372.80" x2="416.00" y2="377.80" stroke="#be9c9c" stroke-width="0.65" />
<line x1="416.00" y1="377.80" x2="400.50" y2="372.80" stroke="#be9c9c" stroke-width="0.65" />
<line x1="400.50" y1="372.80" x2="400.50" y2="368.00" stroke="#be9c9c" stroke-width="0.65" />
<line x1="400.50" y1="368.00" x2="416.00" y2="363.00" stroke="#be9c9c" stroke-width="0.65" />
<line x1="447.00" y1="363.00" x2="462.50" y2="368.00" stroke="#be9c9c" stroke-width="0.65" />
<line x1="462.50" y1="368.00" x2="462.50" y2="372.80" stroke="#be9c9c" stroke-width="0.65" />
<line x1="462.50" y1="372.80" x2="447.00" y2="377.80" stroke="#be9c9c" stroke-width="0.65" />
<line x1="447.00" y1="377.80" x2="431.50" y2="372.80" stroke="#be9c9c" stroke-width="0.65" />
<line x1="431.50" y1="372.80" x2="431.50" y2="368.00" stroke="#be9c9c" stroke-width="0.65" />
<line x1="431.50" y1="368.00" x2="447.00" y2="363.00" stroke="#be9c9c" stroke-width="0.65" />
<line x1="478.00" y1="363.00" x2="493.50" y2="368.00" stroke="#be9c9c" stroke-width="0.65" />
<line x1="493.50" y1="368.00" x2="493.50" y2="372.80" stroke="#be9c9c" stroke-width="0.65" />
<line x1="493.50" y1="372.80" x2="478.00" y2="377.80" stroke="#be9c9c" stroke-width="0.65" />
<line x1="478.00" y1="377.80" x2="462.50" y2="372.80" stroke="#be9c9c" stroke-width="0.65" />
<line x1="462.50" y1="372.80" x2="462.50" y2="368.00" stroke="#be9c9c" stroke-width="0.65" />
<line x1="462.50" y1="368.00" x2="478.00" y2="363.00" stroke="#be9c9c" stroke-width="0.65" />
<line x1="412.70" y1="382.10" x2="428.20" y2="386.80" stroke="#be9c9c" stroke-width="0.65" />
<line x1="428.20" y1="386.80" x2="428.20" y2="391.80" stroke="#be9c9c" stroke-width="0.65" />
<line x1="428.20" y1="391.80" x2="412.70" y2="396.50" stroke="#be9c9c" stroke-width="0.65" />
<line x1="412.70" y1="396.50" x2="397.20" y2="391.80" stroke="#be9c9c" stroke-width="0.65" />
<line x1="397.20" y1="391.80" x2="397.20" y2="386.80" stroke="#be9c9c" stroke-width="0.65" />
<line x1="397.20" y1="386.80" x2="412.70" y2="382.10" stroke="#be9c9c" stroke-width="0.65" />
<line x1="443.70" y1="382.10" x2="459.20" y2="386.80" stroke="#be9c9c" stroke-width="0.65" />
<line x1="459.20" y1="386.80" x2="459.20" y2="391.80" stroke="#be9c9c" stroke-width="0.65" />
<line x1="459.20" y1="391.80" x2="443.70" y2="396.50" stroke="#be9c9c" stroke-width="0.65" />
<line x1="443.70" y1="396.50" x2="428.20" y2="391.80" stroke="#be9c9c" stroke-width="0.65" />
<line x1="428.20" y1="391.80" x2="428.20" y2="386.80" stroke="#be9c9c" stroke-width="0.65" />
<line x1="428.20" y1="386.80" x2="443.70" y2="382.10" stroke="#be9c9c" stroke-width="0.65" />
<line x1="474.70" y1="382.10" x2="490.20" y2="386.80" stroke="#be9c9c" stroke-width="0.65" />
<line x1="490.20" y1="386.80" x2="490.20" y2="391.80" stroke="#be9c9c" stroke-width="0.65" />
<line x1="490.20" y1="391.80" x2="474.70" y2="396.50" stroke="#be9c9c" stroke-width="0.65" />
<line x1="474.70" y1="396.50" x2="459.20" y2="391.80" stroke="#be9c9c" stroke-width="0.65" />
<line x1="459.20" y1="391.80" x2="459.20" y2="386.80" stroke="#be9c9c" stroke-width="0.65" />
<line x1="459.20" y1="386.80" x2="474.70" y2="382.10" stroke="#be9c9c" stroke-width="0.65" />
<line x1="396.70" y1="402.00" x2="412.20" y2="411.80" stroke="#be9c9c" stroke-width="0.65" />
<line x1="412.20" y1="411.80" x2="427.70" y2="402.00" stroke="#be9c9c" stroke-width="0.65" />
<line x1="427.70" y1="402.00" x2="443.20" y2="411.80" stroke="#be9c9c" stroke-width="0.65" />
<line x1="443.20" y1="411.80" x2="458.70" y2="402.00" stroke="#be9c9c" stroke-width="0.65" />
<line x1="458.70" y1="402.00" x2="474.20" y2="411.80" stroke="#be9c9c" stroke-width="0.65" />
<line x1="474.20" y1="411.80" x2="489.70" y2="402.00" stroke="#be9c9c" stroke-width="0.65" />
<line x1="416.00" y1="363.00" x2="412.70" y2="382.10" stroke="#be9c9c" stroke-width="0.65" />
<line x1="416.00" y1="377.80" x2="412.70" y2="396.50" stroke="#be9c9c" stroke-width="0.65" />
<line x1="400.50" y1="372.80" x2="397.20" y2="391.80" stroke="#be9c9c" stroke-width="0.65" />
<line x1="416.00" y1="363.00" x2="416.30" y2="357.50" stroke="#be9c9c" stroke-width="0.65" />
<line x1="447.00" y1="363.00" x2="443.70" y2="382.10" stroke="#be9c9c" stroke-width="0.65" />
<line x1="447.00" y1="377.80" x2="443.70" y2="396.50" stroke="#be9c9c" stroke-width="0.65" />
<line x1="431.50" y1="372.80" x2="428.20" y2="391.80" stroke="#be9c9c" stroke-width="0.65" />
<line x1="447.00" y1="363.00" x2="447.30" y2="357.50" stroke="#be9c9c" stroke-width="0.65" />
<line x1="478.00" y1="363.00" x2="474.70" y2="382.10" stroke="#be9c9c" stroke-width="0.65" />
<line x1="478.00" y1="377.80" x2="474.70" y2="396.50" stroke="#be9c9c" stroke-width="0.65" />
<line x1="462.50" y1="372.80" x2="459.20" y2="391.80" stroke="#be9c9c" stroke-width="0.65" />
<line x1="493.50" y1="372.80" x2="490.20" y2="391.80" stroke="#be9c9c" stroke-width="0.65" />
<line x1="478.00" y1="363.00" x2="478.30" y2="357.50" stroke="#be9c9c" stroke-width="0.65" />
<line x1="412.70" y1="396.50" x2="412.20" y2="411.80" stroke="#be9c9c" stroke-width="0.65" />
<line x1="397.20" y1="391.80" x2="396.70" y2="402.00" stroke="#be9c9c" stroke-width="0.65" />
<line x1="443.70" y1="396.50" x2="443.20" y2="411.80" stroke="#be9c9c" stroke-width="0.65" />
<line x1="428.20" y1="391.80" x2="427.70" y2="402.00" stroke="#be9c9c" stroke-width="0.65" />
<line x1="474.70" y1="396.50" x2="474.20" y2="411.80" stroke="#be9c9c" stroke-width="0.65" />
<line x1="459.20" y1="391.80" x2="458.70" y2="402.00" stroke="#be9c9c" stroke-width="0.65" />
<line x1="490.20" y1="391.80" x2="489.70" y2="402.00" stroke="#be9c9c" stroke-width="0.65" />
<line x1="397.20" y1="386.80" x2="412.20" y2="402.80" stroke="#be9c9c" stroke-width="0.65" />
<line x1="428.20" y1="386.80" x2="443.20" y2="402.80" stroke="#be9c9c" stroke-width="0.65" />
<line x1="459.20" y1="386.80" x2="474.20" y2="402.80" stroke="#be9c9c" stroke-width="0.65" />
<line x1="536.50" y1="363.00" x2="552.00" y2="368.00" stroke="#be9c9c" stroke-width="0.65" />
<line x1="552.00" y1="368.00" x2="552.00" y2="372.80" stroke="#be9c9c" stroke-width="0.65" />
<line x1="552.00" y1="372.80" x2="536.50" y2="377.80" stroke="#be9c9c" stroke-width="0.65" />
<line x1="536.50" y1="377.80" x2="521.00" y2="372.80" stroke="#be9c9c" stroke-width="0.65" />
<line x1="521.00" y1="372.80" x2="521.00" y2="368.00" stroke="#be9c9c" stroke-width="0.65" />
<line x1="521.00" y1="368.00" x2="536.50" y2="363.00" stroke="#be9c9c" stroke-width="0.65" />
<line x1="567.50" y1="363.00" x2="583.00" y2="368.00" stroke="#be9c9c" stroke-width="0.65" />
<line x1="583.00" y1="368.00" x2="583.00" y2="372.80" stroke="#be9c9c" stroke-width="0.65" />
<line x1="583.00" y1="372.80" x2="567.50" y2="377.80" stroke="#be9c9c" stroke-width="0.65" />
<line x1="567.50" y1="377.80" x2="552.00" y2="372.80" stroke="#be9c9c" stroke-width="0.65" />
<line x1="552.00" y1="372.80" x2="552.00" y2="368.00" stroke="#be9c9c" stroke-width="0.65" />
<line x1="552.00" y1="368.00" x2="567.50" y2="363.00" stroke="#be9c9c" stroke-width="0.65" />
<line x1="598.50" y1="363.00" x2="614.00" y2="368.00" stroke="#be9c9c" stroke-width="0.65" />
<line x1="614.00" y1="368.00" x2="614.00" y2="372.80" stroke="#be9c9c" stroke-width="0.65" />
<line x1="614.00" y1="372.80" x2="598.50" y2="377.80" stroke="#be9c9c" stroke-width="0.65" />
<line x1="598.50" y1="377.80" x2="583.00" y2="372.80" stroke="#be9c9c" stroke-width="0.65" />
<line x1="583.00" y1="372.80" x2="583.00" y2="368.00" stroke="#be9c9c" stroke-width="0.65" />
<line x1="583.00" y1="368.00" x2="598.50" y2="363.00" stroke="#be9c9c" stroke-width="0.65" />
<line x1="533.20" y1="382.10" x2="548.70" y2="386.80" stroke="#be9c9c" stroke-width="0.65" />
<line x1="548.70" y1="386.80" x2="548.70" y2="391.80" stroke="#be9c9c" stroke-width="0.65" />
<line x1="548.70" y1="391.80" x2="533.20" y2="396.50" stroke="#be9c9c" stroke-width="0.65" />
<line x1="533.20" y1="396.50" x2="517.70" y2="391.80" stroke="#be9c9c" stroke-width="0.65" />
<line x1="517.70" y1="391.80" x2="517.70" y2="386.80" stroke="#be9c9c" stroke-width="0.65" />
<line x1="517.70" y1="386.80" x2="533.20" y2="382.10" stroke="#be9c9c" stroke-width="0.65" />
<line x1="564.20" y1="382.10" x2="579.70" y2="386.80" stroke="#be9c9c" stroke-width="0.65" />
<line x1="579.70" y1="386.80" x2="579.70" y2="391.80" stroke="#be9c9c" stroke-width="0.65" />
<line x1="579.70" y1="391.80" x2="564.20" y2="396.50" stroke="#be9c9c" stroke-width="0.65" />
<line x1="564.20" y1="396.50" x2="548.70" y2="391.80" stroke="#be9c9c" stroke-width="0.65" />
<line x1="548.70" y1="391.80" x2="548.70" y2="386.80" stroke="#be9c9c" stroke-width="0.65" />
<line x1="548.70" y1="386.80" x2="564.20" y2="382.10" stroke="#be9c9c" stroke-width="0.65" />
<line x1="595.20" y1="382.10" x2="610.70" y2="386.80" stroke="#be9c9c" stroke-width="0.65" />
<line x1="610.70" y1="386.80" x2="610.70" y2="391.80" stroke="#be9c9c" stroke-width="0.65" />
<line x1="610.70" y1="391.80" x2="595.20" y2="396.50" stroke="#be9c9c" stroke-width="0.65" />
<line x1="595.20" y1="396.50" x2="579.70" y2="391.80" stroke="#be9c9c" stroke-width="0.65" />
<line x1="579.70" y1="391.80" x2="579.70" y2="386.80" stroke="#be9c9c" stroke-width="0.65" />
<line x1="579.70" y1="386.80" x2="595.20" y2="382.10" stroke="#be9c9c" stroke-width="0.65" />
<line x1="517.20" y1="402.00" x2="532.70" y2="411.80" stroke="#be9c9c" stroke-width="0.65" />
<line x1="532.70" y1="411.80" x2="548.20" y2="402.00" stroke="#be9c9c" stroke-width="0.65" />
<line x1="548.20" y1="402.00" x2="563.70" y2="411.80" stroke="#be9c9c" stroke-width="0.65" />
<line x1="563.70" y1="411.80" x2="579.20" y2="402.00" stroke="#be9c9c" stroke-width="0.65" />
<line x1="579.20" y1="402.00" x2="594.70" y2="411.80" stroke="#be9c9c" stroke-width="0.65" />
<line x1="594.70" y1="411.80" x2="610.20" y2="402.00" stroke="#be9c9c" stroke-width="0.65" />
<line x1="536.50" y1="363.00" x2="533.20" y2="382.10" stroke="#be9c9c" stroke-width="0.65" />
<line x1="536.50" y1="377.80" x2="533.20" y2="396.50" stroke="#be9c9c" stroke-width="0.65" />
<line x1="521.00" y1="372.80" x2="517.70" y2="391.80" stroke="#be9c9c" stroke-width="0.65" />
<line x1="536.50" y1="363.00" x2="536.80" y2="357.50" stroke="#be9c9c" stroke-width="0.65" />
<line x1="567.50" y1="363.00" x2="564.20" y2="382.10" stroke="#be9c9c" stroke-width="0.65" />
<line x1="567.50" y1="377.80" x2="564.20" y2="396.50" stroke="#be9c9c" stroke-width="0.65" />
<line x1="552.00" y1="372.80" x2="548.70" y2="391.80" stroke="#be9c9c" stroke-width="0.65" />
<line x1="567.50" y1="363.00" x2="567.80" y2="357.50" stroke="#be9c9c" stroke-width="0.65" />
<line x1="598.50" y1="363.00" x2="595.20" y2="382.10" stroke="#be9c9c" stroke-width="0.65" />
<line x1="598.50" y1="377.80" x2="595.20" y2="396.50" stroke="#be9c9c" stroke-width="0.65" />
<line x1="583.00" y1="372.80" x2="579.70" y2="391.80" stroke="#be9c9c" stroke-width="0.65" />
<line x1="614.00" y1="372.80" x2="610.70" y2="391.80" stroke="#be9c9c" stroke-width="0.65" />
<line x1="598.50" y1="363.00" x2="598.80" y2="357.50" stroke="#be9c9c" stroke-width="0.65" />
<line x1="533.20" y1="396.50" x2="532.70" y2="411.80" stroke="#be9c9c" stroke-width="0.65" />
<line x1="517.70" y1="391.80" x2="517.20" y2="402.00" stroke="#be9c9c" stroke-width="0.65" />
<line x1="564.20" y1="396.50" x2="563.70" y2="411.80" stroke="#be9c9c" stroke-width="0.65" />
<line x1="548.70" y1="391.80" x2="548.20" y2="402.00" stroke="#be9c9c" stroke-width="0.65" />
<line x1="595.20" y1="396.50" x2="594.70" y2="411.80" stroke="#be9c9c" stroke-width="0.65" />
<line x1="579.70" y1="391.80" x2="579.20" y2="402.00" stroke="#be9c9c" stroke-width="0.65" />
<line x1="610.70" y1="391.80" x2="610.20" y2="402.00" stroke="#be9c9c" stroke-width="0.65" />
<line x1="517.70" y1="386.80" x2="532.70" y2="402.80" stroke="#be9c9c" stroke-width="0.65" />
<line x1="548.70" y1="386.80" x2="563.70" y2="402.80" stroke="#be9c9c" stroke-width="0.65" />
<line x1="579.70" y1="386.80" x2="594.70" y2="402.80" stroke="#be9c9c" stroke-width="0.65" />
<path d="M57.2,351.2 L62.8,345.2 L68.9,338.1 L73.5,339.0 L80.6,341.0 L85.3,345.6 L90.9,348.9" fill="none" stroke="#b06060" stroke-width="1.3"/>
<ellipse cx="66.60" cy="332.50" rx="2.8" ry="2.4" fill="url(#gC)" stroke="#2aaac4" stroke-width="0.3"/>
<ellipse cx="81.60" cy="335.80" rx="3.0" ry="2.6" fill="url(#gC)" stroke="#2aaac4" stroke-width="0.3"/>
<ellipse cx="91.90" cy="342.80" rx="1.6" ry="1.2" fill="url(#gC)" stroke="#2aaac4" stroke-width="0.3"/>
<ellipse cx="56.20" cy="345.10" rx="2.0" ry="1.8" fill="url(#gC)" stroke="#2aaac4" stroke-width="0.3"/>
<ellipse cx="54.40" cy="352.20" rx="2.0" ry="2.0" fill="url(#gC)" stroke="#2aaac4" stroke-width="0.3"/>
<ellipse cx="64.00" cy="353.60" rx="5.0" ry="4.0" fill="url(#gC)" stroke="#2aaac4" stroke-width="0.3"/>
<ellipse cx="86.00" cy="353.10" rx="4.6" ry="3.8" fill="url(#gC)" stroke="#2aaac4" stroke-width="0.3"/>
<ellipse cx="95.60" cy="353.10" rx="3.2" ry="2.8" fill="url(#gC)" stroke="#2aaac4" stroke-width="0.3"/>
<ellipse cx="72.60" cy="333.00" rx="2.5" ry="2.5" fill="url(#gR)" stroke="#a8202a" stroke-width="0.35"/>
<ellipse cx="65.20" cy="340.00" rx="4.5" ry="3.5" fill="url(#gR)" stroke="#a8202a" stroke-width="0.35" transform="rotate(20 65.2 340.0)"/>
<ellipse cx="84.40" cy="341.40" rx="4.0" ry="4.0" fill="url(#gR)" stroke="#a8202a" stroke-width="0.35"/>
<ellipse cx="90.90" cy="348.90" rx="4.8" ry="3.2" fill="url(#gR)" stroke="#a8202a" stroke-width="0.35"/>
<ellipse cx="58.10" cy="349.40" rx="4.2" ry="3.6" fill="url(#gR)" stroke="#a8202a" stroke-width="0.35"/>
<circle cx="68.90" cy="338.10" r="2.4" fill="url(#gSg)"/>
<circle cx="80.60" cy="341.00" r="2.4" fill="url(#gSg)"/>
<circle cx="57.20" cy="351.20" r="2.4" fill="url(#gSg)"/>
<ellipse cx="59.00" cy="377.00" rx="5.6" ry="3.0" fill="url(#gC)" stroke="#2aaac4" stroke-width="0.3"/>
<ellipse cx="90.90" cy="377.50" rx="5.1" ry="3.0" fill="url(#gC)" stroke="#2aaac4" stroke-width="0.3"/>
<ellipse cx="59.50" cy="372.90" rx="7.0" ry="2.5" fill="url(#gR)" stroke="#a8202a" stroke-width="0.35"/>
<ellipse cx="91.00" cy="373.30" rx="7.0" ry="2.5" fill="url(#gR)" stroke="#a8202a" stroke-width="0.35"/>
<ellipse cx="60.00" cy="368.80" rx="8.4" ry="2.2" fill="url(#gC)" stroke="#2aaac4" stroke-width="0.3"/>
<ellipse cx="90.00" cy="369.00" rx="7.6" ry="2.2" fill="url(#gC)" stroke="#2aaac4" stroke-width="0.3"/>
<ellipse cx="59.00" cy="369.60" rx="4.0" ry="1.0" fill="url(#gD)"/>
<ellipse cx="90.50" cy="369.80" rx="4.0" ry="1.0" fill="url(#gD)"/>
<ellipse cx="60.00" cy="361.50" rx="9.4" ry="5.8" fill="url(#gR)" stroke="#a8202a" stroke-width="0.35"/>
<ellipse cx="91.90" cy="361.80" rx="8.5" ry="5.8" fill="url(#gR)" stroke="#a8202a" stroke-width="0.35"/>
<circle cx="63.70" cy="361.60" r="1.8" fill="url(#gM)"/>
<circle cx="94.00" cy="361.20" r="1.8" fill="url(#gM)"/>
<circle cx="75.50" cy="351.70" r="3.3" fill="url(#gLg)"/>
<circle cx="74.50" cy="358.30" r="3.3" fill="url(#gLg)"/>
<circle cx="74.50" cy="369.10" r="5.2" fill="url(#gR)"/>
<ellipse cx="73.60" cy="376.10" rx="1.5" ry="1.5" fill="url(#gC)" stroke="#2aaac4" stroke-width="0.3"/>
<circle cx="75.00" cy="381.20" r="3.3" fill="url(#gR)"/>
<path d="M179.8,354.2 L184.0,348.7 L190.4,341.2 L197.0,341.5 L204.0,343.0 L207.0,345.5 L215.2,351.1" fill="none" stroke="#b06060" stroke-width="1.3"/>
<ellipse cx="188.50" cy="335.60" rx="2.6" ry="2.5" fill="url(#gC)" stroke="#2aaac4" stroke-width="0.3"/>
<ellipse cx="204.00" cy="336.80" rx="2.9" ry="2.7" fill="url(#gC)" stroke="#2aaac4" stroke-width="0.3"/>
<ellipse cx="178.20" cy="350.60" rx="4.4" ry="5.6" fill="url(#gC)" stroke="#2aaac4" stroke-width="0.3"/>
<ellipse cx="216.40" cy="344.90" rx="4.0" ry="3.5" fill="url(#gC)" stroke="#2aaac4" stroke-width="0.3"/>
<ellipse cx="186.60" cy="357.30" rx="4.3" ry="4.0" fill="url(#gC)" stroke="#2aaac4" stroke-width="0.3"/>
<ellipse cx="207.80" cy="355.50" rx="4.6" ry="3.4" fill="url(#gC)" stroke="#2aaac4" stroke-width="0.3"/>
<ellipse cx="189.10" cy="341.80" rx="4.5" ry="2.8" fill="url(#gR)" stroke="#a8202a" stroke-width="0.35"/>
<ellipse cx="204.00" cy="343.00" rx="4.0" ry="3.4" fill="url(#gR)" stroke="#a8202a" stroke-width="0.35"/>
<ellipse cx="215.20" cy="351.10" rx="4.5" ry="3.0" fill="url(#gR)" stroke="#a8202a" stroke-width="0.35"/>
<ellipse cx="191.00" cy="363.00" rx="3.0" ry="3.6" fill="url(#gR)" stroke="#a8202a" stroke-width="0.35"/>
<circle cx="190.40" cy="341.20" r="2.4" fill="url(#gSg)"/>
<circle cx="204.00" cy="342.50" r="2.4" fill="url(#gSg)"/>
<circle cx="179.80" cy="354.20" r="2.8" fill="url(#gSg)"/>
<ellipse cx="181.50" cy="371.00" rx="7.0" ry="2.6" fill="url(#gC)" stroke="#2aaac4" stroke-width="0.3"/>
<ellipse cx="211.50" cy="371.00" rx="7.2" ry="2.6" fill="url(#gC)" stroke="#2aaac4" stroke-width="0.3"/>
<ellipse cx="181.70" cy="374.10" rx="6.2" ry="2.1" fill="url(#gR)" stroke="#a8202a" stroke-width="0.35"/>
<ellipse cx="212.70" cy="374.10" rx="6.4" ry="2.1" fill="url(#gR)" stroke="#a8202a" stroke-width="0.35"/>
<ellipse cx="181.70" cy="377.80" rx="5.2" ry="2.8" fill="url(#gC)" stroke="#2aaac4" stroke-width="0.3"/>
<ellipse cx="212.70" cy="377.80" rx="5.2" ry="2.8" fill="url(#gC)" stroke="#2aaac4" stroke-width="0.3"/>
<ellipse cx="180.40" cy="364.00" rx="6.4" ry="6.0" fill="url(#gR)" stroke="#a8202a" stroke-width="0.35"/>
<ellipse cx="212.70" cy="364.80" rx="8.4" ry="6.2" fill="url(#gR)" stroke="#a8202a" stroke-width="0.35"/>
<circle cx="182.90" cy="367.30" r="2.5" fill="url(#gO)"/>
<circle cx="211.50" cy="367.30" r="2.5" fill="url(#gO)"/>
<circle cx="197.80" cy="353.60" r="3.3" fill="url(#gLg)"/>
<circle cx="196.00" cy="359.80" r="3.3" fill="url(#gLg)"/>
<ellipse cx="196.20" cy="370.40" rx="4.7" ry="5.0" fill="url(#gR)" stroke="#a8202a" stroke-width="0.35"/>
<circle cx="196.60" cy="378.40" r="1.5" fill="url(#gC)"/>
<path d="M307.6,353.4 L312.0,347.0 L316.4,341.2 L323.0,341.8 L329.9,342.6 L334.0,346.0 L340.1,349.4" fill="none" stroke="#b06060" stroke-width="1.3"/>
<ellipse cx="315.00" cy="335.20" rx="2.5" ry="2.3" fill="url(#gC)" stroke="#2aaac4" stroke-width="0.3"/>
<ellipse cx="330.60" cy="336.50" rx="2.5" ry="2.3" fill="url(#gC)" stroke="#2aaac4" stroke-width="0.3"/>
<ellipse cx="304.90" cy="347.30" rx="4.5" ry="3.6" fill="url(#gC)" stroke="#2aaac4" stroke-width="0.3"/>
<ellipse cx="342.80" cy="344.00" rx="4.0" ry="3.0" fill="url(#gC)" stroke="#2aaac4" stroke-width="0.3"/>
<ellipse cx="312.30" cy="356.80" rx="4.0" ry="3.0" fill="url(#gC)" stroke="#2aaac4" stroke-width="0.3"/>
<ellipse cx="336.00" cy="354.80" rx="3.6" ry="2.8" fill="url(#gC)" stroke="#2aaac4" stroke-width="0.3"/>
<ellipse cx="308.30" cy="375.80" rx="5.2" ry="3.0" fill="url(#gC)" stroke="#2aaac4" stroke-width="0.3"/>
<ellipse cx="338.10" cy="375.80" rx="5.2" ry="3.0" fill="url(#gC)" stroke="#2aaac4" stroke-width="0.3"/>
<circle cx="322.50" cy="379.40" r="2.0" fill="url(#gC)"/>
<ellipse cx="340.10" cy="349.40" rx="4.5" ry="2.5" fill="url(#gR)" stroke="#a8202a" stroke-width="0.35"/>
<ellipse cx="307.60" cy="353.80" rx="3.4" ry="3.0" fill="url(#gR)" stroke="#a8202a" stroke-width="0.35"/>
<ellipse cx="315.60" cy="341.80" rx="3.6" ry="2.4" fill="url(#gR)" stroke="#a8202a" stroke-width="0.35"/>
<ellipse cx="330.80" cy="343.20" rx="3.4" ry="2.6" fill="url(#gR)" stroke="#a8202a" stroke-width="0.35"/>
<circle cx="316.40" cy="341.20" r="2.6" fill="url(#gSg)"/>
<circle cx="329.90" cy="342.60" r="2.6" fill="url(#gSg)"/>
<circle cx="307.60" cy="353.40" r="2.4" fill="url(#gSg)"/>
<ellipse cx="307.80" cy="366.00" rx="6.2" ry="8.2" fill="url(#gR)" stroke="#a8202a" stroke-width="0.35"/>
<ellipse cx="340.80" cy="365.00" rx="7.0" ry="7.6" fill="url(#gR)" stroke="#a8202a" stroke-width="0.35"/>
<circle cx="317.00" cy="362.90" r="4.0" fill="url(#gR)"/>
<circle cx="330.60" cy="361.60" r="4.0" fill="url(#gR)"/>
<circle cx="324.50" cy="353.40" r="3.3" fill="url(#gLg)"/>
<circle cx="323.20" cy="359.50" r="3.3" fill="url(#gLg)"/>
<circle cx="322.50" cy="371.00" r="4.6" fill="url(#gR)"/>
<circle cx="326.60" cy="377.10" r="2.5" fill="url(#gR)"/>
<path d="M430.6,351.4 L435.0,344.0 L439.4,337.9 L446.5,339.0 L453.6,340.6 L457.5,345.0 L461.7,349.4" fill="none" stroke="#b06060" stroke-width="1.3"/>
<ellipse cx="438.70" cy="333.10" rx="2.1" ry="1.9" fill="url(#gC)" stroke="#2aaac4" stroke-width="0.3"/>
<ellipse cx="454.30" cy="335.20" rx="2.1" ry="1.9" fill="url(#gC)" stroke="#2aaac4" stroke-width="0.3"/>
<ellipse cx="429.20" cy="346.00" rx="2.6" ry="2.3" fill="url(#gC)" stroke="#2aaac4" stroke-width="0.3"/>
<ellipse cx="463.70" cy="344.00" rx="3.0" ry="2.6" fill="url(#gC)" stroke="#2aaac4" stroke-width="0.3"/>
<ellipse cx="436.70" cy="354.80" rx="3.0" ry="3.0" fill="url(#gC)" stroke="#2aaac4" stroke-width="0.3"/>
<ellipse cx="458.30" cy="353.40" rx="3.6" ry="2.6" fill="url(#gC)" stroke="#2aaac4" stroke-width="0.3"/>
<ellipse cx="429.90" cy="373.70" rx="4.0" ry="3.0" fill="url(#gC)" stroke="#2aaac4" stroke-width="0.3"/>
<ellipse cx="462.40" cy="373.70" rx="4.0" ry="3.0" fill="url(#gC)" stroke="#2aaac4" stroke-width="0.3"/>
<ellipse cx="445.50" cy="378.60" rx="1.5" ry="1.5" fill="url(#gC)" stroke="#2aaac4" stroke-width="0.3"/>
<ellipse cx="461.70" cy="349.40" rx="4.5" ry="2.5" fill="url(#gR)" stroke="#a8202a" stroke-width="0.35"/>
<ellipse cx="430.60" cy="351.60" rx="3.6" ry="3.0" fill="url(#gR)" stroke="#a8202a" stroke-width="0.35"/>
<ellipse cx="439.40" cy="337.90" rx="3.0" ry="2.6" fill="url(#gR)" stroke="#a8202a" stroke-width="0.35"/>
<circle cx="439.40" cy="337.90" r="2.6" fill="url(#gSg)"/>
<circle cx="453.60" cy="340.60" r="2.6" fill="url(#gSg)"/>
<circle cx="430.60" cy="351.40" r="2.5" fill="url(#gSg)"/>
<ellipse cx="428.50" cy="360.20" rx="5.2" ry="5.6" fill="url(#gR)" stroke="#a8202a" stroke-width="0.35"/>
<ellipse cx="464.40" cy="360.90" rx="5.2" ry="5.2" fill="url(#gR)" stroke="#a8202a" stroke-width="0.35"/>
<ellipse cx="438.00" cy="364.30" rx="3.0" ry="5.0" fill="url(#gR)" stroke="#a8202a" stroke-width="0.35"/>
<ellipse cx="455.00" cy="363.60" rx="3.0" ry="5.0" fill="url(#gR)" stroke="#a8202a" stroke-width="0.35"/>
<ellipse cx="446.80" cy="367.60" rx="5.2" ry="3.6" fill="url(#gR)" stroke="#a8202a" stroke-width="0.35"/>
<circle cx="440.00" cy="376.40" r="1.5" fill="url(#gR)"/>
<circle cx="450.20" cy="376.40" r="1.5" fill="url(#gR)"/>
<circle cx="428.50" cy="368.30" r="2.2" fill="url(#gSg)"/>
<circle cx="433.30" cy="371.00" r="2.2" fill="url(#gSg)"/>
<circle cx="461.00" cy="368.30" r="2.2" fill="url(#gSg)"/>
<circle cx="464.40" cy="371.00" r="2.2" fill="url(#gSg)"/>
<circle cx="446.80" cy="353.40" r="3.5" fill="url(#gLg)"/>
<circle cx="446.10" cy="358.80" r="3.5" fill="url(#gLg)"/>
<path d="M550.6,351.6 L560.8,338.5 L573.8,341.9 L582.2,351.1" fill="none" stroke="#b06060" stroke-width="1.3"/>
<ellipse cx="551.70" cy="368.50" rx="4.5" ry="4.0" fill="url(#gC)" stroke="#2aaac4" stroke-width="0.3"/>
<ellipse cx="581.70" cy="368.50" rx="4.5" ry="4.0" fill="url(#gC)" stroke="#2aaac4" stroke-width="0.3"/>
<circle cx="566.00" cy="379.00" r="1.5" fill="url(#gC)"/>
<ellipse cx="582.00" cy="356.00" rx="2.0" ry="1.5" fill="url(#gC)" stroke="#2aaac4" stroke-width="0.3"/>
<circle cx="551.70" cy="371.00" r="2.0" fill="url(#gD)"/>
<circle cx="581.70" cy="371.00" r="2.0" fill="url(#gD)"/>
<circle cx="550.20" cy="360.60" r="3.5" fill="url(#gR)"/>
<circle cx="582.60" cy="360.20" r="3.5" fill="url(#gR)"/>
<circle cx="560.75" cy="360.60" r="2.5" fill="url(#gR)"/>
<circle cx="550.60" cy="351.60" r="3.3" fill="url(#gSg)"/>
<circle cx="560.75" cy="338.50" r="3.3" fill="url(#gSg)"/>
<circle cx="573.80" cy="341.90" r="3.3" fill="url(#gSg)"/>
<circle cx="582.20" cy="351.10" r="3.3" fill="url(#gSg)"/>
<circle cx="566.80" cy="354.30" r="3.5" fill="url(#gLg)"/>
<circle cx="566.80" cy="360.20" r="3.5" fill="url(#gLg)"/>
<circle cx="567.00" cy="370.75" r="5.0" fill="url(#gR)"/>
<text x="75.00" y="432.8" font-size="9" text-anchor="middle" fill="#111" stroke="#111" stroke-width="0.22">Mn<tspan font-size="5.0" dy="1.6">0.125</tspan><tspan dy="-1.6">Zn</tspan><tspan font-size="5.0" dy="1.6">0.875</tspan><tspan dy="-1.6">S</tspan></text>
<text x="197.75" y="432.8" font-size="9" text-anchor="middle" fill="#111" stroke="#111" stroke-width="0.22">Fe<tspan font-size="5.0" dy="1.6">0.125</tspan><tspan dy="-1.6">Zn</tspan><tspan font-size="5.0" dy="1.6">0.875</tspan><tspan dy="-1.6">S</tspan></text>
<text x="321.50" y="432.8" font-size="9" text-anchor="middle" fill="#111" stroke="#111" stroke-width="0.22">Co<tspan font-size="5.0" dy="1.6">0.125</tspan><tspan dy="-1.6">Zn</tspan><tspan font-size="5.0" dy="1.6">0.875</tspan><tspan dy="-1.6">S</tspan></text>
<text x="445.00" y="432.8" font-size="9" text-anchor="middle" fill="#111" stroke="#111" stroke-width="0.22">Ni<tspan font-size="5.0" dy="1.6">0.125</tspan><tspan dy="-1.6">Zn</tspan><tspan font-size="5.0" dy="1.6">0.875</tspan><tspan dy="-1.6">S</tspan></text>
<text x="566.00" y="432.8" font-size="9" text-anchor="middle" fill="#111" stroke="#111" stroke-width="0.22">Cu<tspan font-size="5.0" dy="1.6">0.125</tspan><tspan dy="-1.6">Zn</tspan><tspan font-size="5.0" dy="1.6">0.875</tspan><tspan dy="-1.6">S</tspan></text>
</svg>
</body></html>
